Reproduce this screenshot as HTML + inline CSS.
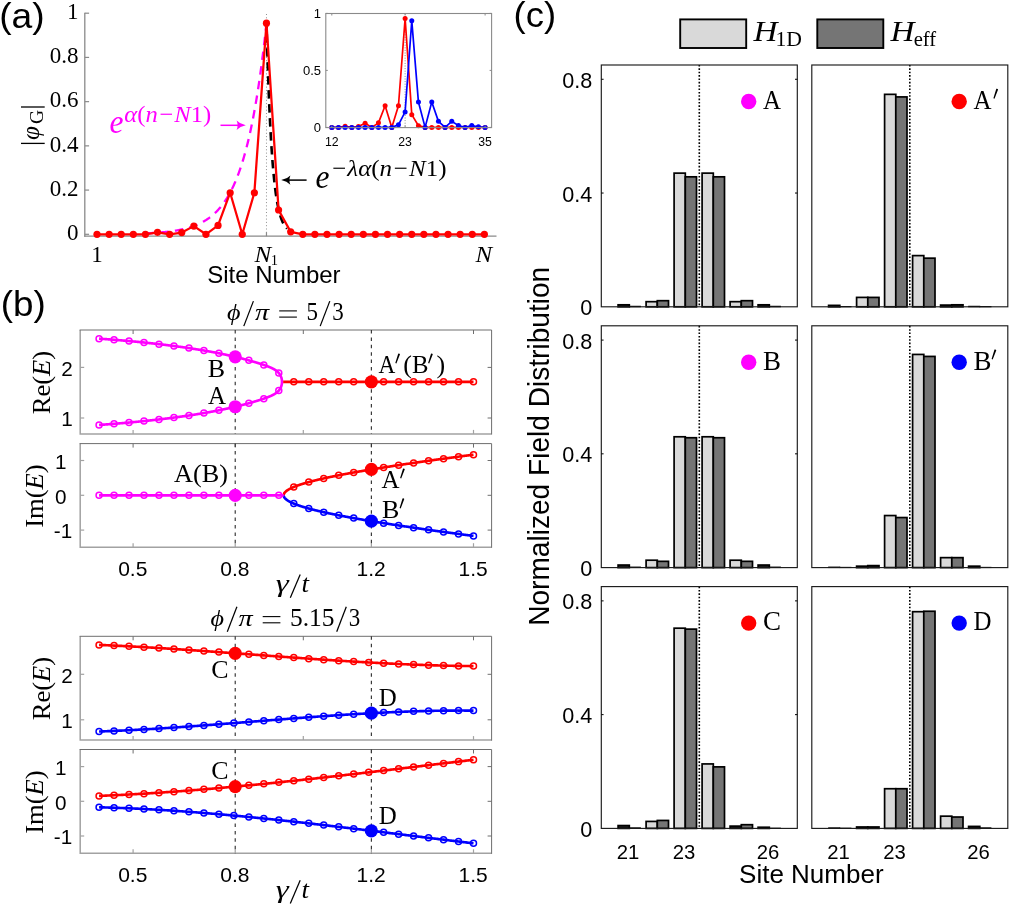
<!DOCTYPE html>
<html><head><meta charset="utf-8"><title>Figure</title>
<style>html,body{margin:0;padding:0;background:#fff;overflow:hidden;}svg{display:block;position:absolute;left:0;top:0;will-change:transform;}</style></head>
<body><svg width="1011" height="906" viewBox="0 0 1011 906">
<rect width="1011" height="906" fill="#fff"/>
<text x="-0.80" y="27.60" font-size="35" font-family="Liberation Sans, sans-serif" text-anchor="start" fill="#000"  textLength="45.5" lengthAdjust="spacingAndGlyphs">(a)</text>
<line x1="266.47" y1="14.00" x2="266.47" y2="236.20" stroke="#8f8f8f" stroke-width="1" stroke-dasharray="1,2.3"/>
<line x1="84.80" y1="12.70" x2="84.80" y2="236.80" stroke="#8a8a8a" stroke-width="1.3" />
<line x1="84.20" y1="236.20" x2="496.50" y2="236.20" stroke="#8a8a8a" stroke-width="1.3" />
<line x1="84.80" y1="234.30" x2="89.10" y2="234.30" stroke="#8a8a8a" stroke-width="1.2" />
<text x="78.40" y="240.00" font-size="23" font-family="Liberation Serif, serif" text-anchor="end" fill="#000" >0</text>
<line x1="84.80" y1="190.08" x2="89.10" y2="190.08" stroke="#8a8a8a" stroke-width="1.2" />
<text x="78.40" y="195.78" font-size="23" font-family="Liberation Serif, serif" text-anchor="end" fill="#000" >0.2</text>
<line x1="84.80" y1="145.86" x2="89.10" y2="145.86" stroke="#8a8a8a" stroke-width="1.2" />
<text x="78.40" y="151.56" font-size="23" font-family="Liberation Serif, serif" text-anchor="end" fill="#000" >0.4</text>
<line x1="84.80" y1="101.64" x2="89.10" y2="101.64" stroke="#8a8a8a" stroke-width="1.2" />
<text x="78.40" y="107.34" font-size="23" font-family="Liberation Serif, serif" text-anchor="end" fill="#000" >0.6</text>
<line x1="84.80" y1="57.42" x2="89.10" y2="57.42" stroke="#8a8a8a" stroke-width="1.2" />
<text x="78.40" y="63.12" font-size="23" font-family="Liberation Serif, serif" text-anchor="end" fill="#000" >0.8</text>
<line x1="84.80" y1="13.20" x2="89.10" y2="13.20" stroke="#8a8a8a" stroke-width="1.2" />
<text x="78.40" y="18.90" font-size="23" font-family="Liberation Serif, serif" text-anchor="end" fill="#000" >1</text>
<line x1="97.00" y1="236.20" x2="97.00" y2="232.20" stroke="#8a8a8a" stroke-width="1.2" />
<line x1="266.47" y1="236.20" x2="266.47" y2="232.20" stroke="#8a8a8a" stroke-width="1.2" />
<line x1="484.36" y1="236.20" x2="484.36" y2="232.20" stroke="#8a8a8a" stroke-width="1.2" />
<line x1="21.00" y1="107.00" x2="44.70" y2="107.00" stroke="#000" stroke-width="1.3" />
<line x1="21.00" y1="143.40" x2="44.70" y2="143.40" stroke="#000" stroke-width="1.3" />
<g transform="translate(38.6,140) rotate(-90)"><text x="0" y="0" font-size="25" font-family="Liberation Serif, serif" font-style="italic">φ</text></g>
<g transform="translate(43,124) rotate(-90)"><text x="0" y="0" font-size="19.5" font-family="Liberation Serif, serif">G</text></g>
<text x="97.00" y="262.00" font-size="23" font-family="Liberation Serif, serif" text-anchor="middle" fill="#000" >1</text>
<text x="254.4" y="262" font-size="23.5" font-family="Liberation Serif, serif" font-style="italic" textLength="16.7" lengthAdjust="spacingAndGlyphs">N</text>
<text x="270.80" y="264.90" font-size="14.5" font-family="Liberation Serif, serif" text-anchor="start" fill="#000" >1</text>
<text x="475.5" y="262" font-size="23.5" font-family="Liberation Serif, serif" font-style="italic" textLength="16.7" lengthAdjust="spacingAndGlyphs">N</text>
<text x="207.30" y="282.80" font-size="24" font-family="Liberation Sans, sans-serif" text-anchor="start" fill="#000"  textLength="133.3" lengthAdjust="spacingAndGlyphs">Site Number</text>
<polyline points="145.42,233.35 146.03,233.32 146.63,233.29 147.24,233.27 147.84,233.24 148.45,233.21 149.05,233.18 149.66,233.15 150.26,233.12 150.87,233.08 151.47,233.05 152.08,233.02 152.68,232.98 153.29,232.95 153.89,232.91 154.50,232.87 155.10,232.83 155.71,232.79 156.31,232.75 156.92,232.71 157.53,232.66 158.13,232.62 158.74,232.57 159.34,232.53 159.95,232.48 160.55,232.43 161.16,232.38 161.76,232.32 162.37,232.27 162.97,232.21 163.58,232.16 164.18,232.10 164.79,232.04 165.39,231.98 166.00,231.91 166.60,231.85 167.21,231.78 167.81,231.71 168.42,231.64 169.02,231.57 169.63,231.49 170.24,231.41 170.84,231.34 171.45,231.25 172.05,231.17 172.66,231.09 173.26,231.00 173.87,230.91 174.47,230.81 175.08,230.72 175.68,230.62 176.29,230.52 176.89,230.42 177.50,230.31 178.10,230.20 178.71,230.09 179.31,229.97 179.92,229.86 180.52,229.73 181.13,229.61 181.74,229.48 182.34,229.35 182.95,229.21 183.55,229.07 184.16,228.93 184.76,228.78 185.37,228.63 185.97,228.48 186.58,228.32 187.18,228.16 187.79,227.99 188.39,227.81 189.00,227.64 189.60,227.45 190.21,227.27 190.81,227.07 191.42,226.88 192.02,226.67 192.63,226.47 193.23,226.25 193.84,226.03 194.45,225.80 195.05,225.57 195.66,225.33 196.26,225.09 196.87,224.84 197.47,224.58 198.08,224.31 198.68,224.04 199.29,223.76 199.89,223.47 200.50,223.17 201.10,222.87 201.71,222.55 202.31,222.23 202.92,221.90 203.52,221.56 204.13,221.21 204.73,220.86 205.34,220.49 205.94,220.11 206.55,219.72 207.16,219.32 207.76,218.91 208.37,218.49 208.97,218.06 209.58,217.61 210.18,217.16 210.79,216.69 211.39,216.21 212.00,215.71 212.60,215.20 213.21,214.68 213.81,214.14 214.42,213.59 215.02,213.02 215.63,212.44 216.23,211.84 216.84,211.23 217.44,210.60 218.05,209.95 218.66,209.28 219.26,208.60 219.87,207.89 220.47,207.17 221.08,206.43 221.68,205.67 222.29,204.88 222.89,204.08 223.50,203.25 224.10,202.40 224.71,201.53 225.31,200.63 225.92,199.71 226.52,198.76 227.13,197.79 227.73,196.79 228.34,195.76 228.94,194.71 229.55,193.63 230.16,192.51 230.76,191.37 231.37,190.20 231.97,188.99 232.58,187.75 233.18,186.47 233.79,185.17 234.39,183.82 235.00,182.44 235.60,181.02 236.21,179.56 236.81,178.06 237.42,176.52 238.02,174.94 238.63,173.32 239.23,171.65 239.84,169.93 240.44,168.17 241.05,166.36 241.65,164.50 242.26,162.59 242.87,160.63 243.47,158.62 244.08,156.54 244.68,154.42 245.29,152.23 245.89,149.98 246.50,147.68 247.10,145.31 247.71,142.87 248.31,140.37 248.92,137.80 249.52,135.16 250.13,132.44 250.73,129.66 251.34,126.79 251.94,123.85 252.55,120.83 253.15,117.72 253.76,114.53 254.37,111.25 254.97,107.88 255.58,104.43 256.18,100.87 256.79,97.22 257.39,93.47 258.00,89.61 258.60,85.65 259.21,81.59 259.81,77.41 260.42,73.11 261.02,68.70 261.63,64.17 262.23,59.51 262.84,54.73 263.44,49.81 264.05,44.77 264.65,39.58 265.26,34.25 265.86,28.77 266.47,23.15" fill="none" stroke="#ff00ff" stroke-width="2.3" stroke-linejoin="round" stroke-dasharray="8.5,6.3"/>
<polyline points="266.47,23.15 266.71,31.96 266.95,40.39 267.20,48.48 267.44,56.23 267.68,63.66 267.92,70.77 268.16,77.59 268.41,84.13 268.65,90.39 268.89,96.39 269.13,102.15 269.38,107.66 269.62,112.94 269.86,118.00 270.10,122.85 270.34,127.50 270.59,131.95 270.83,136.22 271.07,140.31 271.31,144.23 271.55,147.99 271.80,151.59 272.04,155.04 272.28,158.34 272.52,161.51 272.76,164.55 273.01,167.46 273.25,170.24 273.49,172.91 273.73,175.47 273.98,177.93 274.22,180.28 274.46,182.53 274.70,184.69 274.94,186.76 275.19,188.74 275.43,190.64 275.67,192.46 275.91,194.21 276.15,195.88 276.40,197.48 276.64,199.02 276.88,200.49 277.12,201.90 277.36,203.25 277.61,204.55 277.85,205.79 278.09,206.98 278.33,208.12 278.58,209.21 278.82,210.25 279.06,211.26 279.30,212.22 279.54,213.14 279.79,214.02 280.03,214.87 280.27,215.68 280.51,216.45 280.75,217.20 281.00,217.91 281.24,218.60 281.48,219.25 281.72,219.88 281.96,220.48 282.21,221.06 282.45,221.61 282.69,222.14 282.93,222.64 283.17,223.13 283.42,223.60 283.66,224.04 283.90,224.47 284.14,224.88 284.39,225.27 284.63,225.65 284.87,226.01 285.11,226.36 285.35,226.69 285.60,227.01 285.84,227.31 286.08,227.60 286.32,227.88 286.56,228.15 286.81,228.40 287.05,228.65" fill="none" stroke="#000" stroke-width="2.6" stroke-linejoin="round" stroke-dasharray="8.5,5.5" stroke-dashoffset="3"/>
<polyline points="97.00,234.30 109.11,234.30 121.21,234.30 133.31,234.30 145.42,234.30 157.53,232.31 169.63,234.30 181.74,232.53 193.84,226.12 205.94,234.30 218.05,225.46 230.16,192.73 242.26,234.30 254.37,192.73 266.47,23.15 278.58,209.98 290.68,231.87 302.78,234.30 314.89,234.30 327.00,234.30 339.10,234.30 351.21,234.30 363.31,234.30 375.42,234.30 387.52,234.30 399.62,234.30 411.73,234.30 423.84,234.30 435.94,234.30 448.05,234.30 460.15,234.30 472.25,234.30 484.36,234.30" fill="none" stroke="#ff0000" stroke-width="2.25" stroke-linejoin="round" />
<circle cx="97.00" cy="234.30" r="3.6" fill="#ff0000" stroke="none" stroke-width="0"/>
<circle cx="109.11" cy="234.30" r="3.6" fill="#ff0000" stroke="none" stroke-width="0"/>
<circle cx="121.21" cy="234.30" r="3.6" fill="#ff0000" stroke="none" stroke-width="0"/>
<circle cx="133.31" cy="234.30" r="3.6" fill="#ff0000" stroke="none" stroke-width="0"/>
<circle cx="145.42" cy="234.30" r="3.6" fill="#ff0000" stroke="none" stroke-width="0"/>
<circle cx="157.53" cy="232.31" r="3.6" fill="#ff0000" stroke="none" stroke-width="0"/>
<circle cx="169.63" cy="234.30" r="3.6" fill="#ff0000" stroke="none" stroke-width="0"/>
<circle cx="181.74" cy="232.53" r="3.6" fill="#ff0000" stroke="none" stroke-width="0"/>
<circle cx="193.84" cy="226.12" r="3.6" fill="#ff0000" stroke="none" stroke-width="0"/>
<circle cx="205.94" cy="234.30" r="3.6" fill="#ff0000" stroke="none" stroke-width="0"/>
<circle cx="218.05" cy="225.46" r="3.6" fill="#ff0000" stroke="none" stroke-width="0"/>
<circle cx="230.16" cy="192.73" r="3.6" fill="#ff0000" stroke="none" stroke-width="0"/>
<circle cx="242.26" cy="234.30" r="3.6" fill="#ff0000" stroke="none" stroke-width="0"/>
<circle cx="254.37" cy="192.73" r="3.6" fill="#ff0000" stroke="none" stroke-width="0"/>
<circle cx="266.47" cy="23.15" r="3.6" fill="#ff0000" stroke="none" stroke-width="0"/>
<circle cx="278.58" cy="209.98" r="3.6" fill="#ff0000" stroke="none" stroke-width="0"/>
<circle cx="290.68" cy="231.87" r="3.6" fill="#ff0000" stroke="none" stroke-width="0"/>
<circle cx="302.78" cy="234.30" r="3.6" fill="#ff0000" stroke="none" stroke-width="0"/>
<circle cx="314.89" cy="234.30" r="3.6" fill="#ff0000" stroke="none" stroke-width="0"/>
<circle cx="327.00" cy="234.30" r="3.6" fill="#ff0000" stroke="none" stroke-width="0"/>
<circle cx="339.10" cy="234.30" r="3.6" fill="#ff0000" stroke="none" stroke-width="0"/>
<circle cx="351.21" cy="234.30" r="3.6" fill="#ff0000" stroke="none" stroke-width="0"/>
<circle cx="363.31" cy="234.30" r="3.6" fill="#ff0000" stroke="none" stroke-width="0"/>
<circle cx="375.42" cy="234.30" r="3.6" fill="#ff0000" stroke="none" stroke-width="0"/>
<circle cx="387.52" cy="234.30" r="3.6" fill="#ff0000" stroke="none" stroke-width="0"/>
<circle cx="399.62" cy="234.30" r="3.6" fill="#ff0000" stroke="none" stroke-width="0"/>
<circle cx="411.73" cy="234.30" r="3.6" fill="#ff0000" stroke="none" stroke-width="0"/>
<circle cx="423.84" cy="234.30" r="3.6" fill="#ff0000" stroke="none" stroke-width="0"/>
<circle cx="435.94" cy="234.30" r="3.6" fill="#ff0000" stroke="none" stroke-width="0"/>
<circle cx="448.05" cy="234.30" r="3.6" fill="#ff0000" stroke="none" stroke-width="0"/>
<circle cx="460.15" cy="234.30" r="3.6" fill="#ff0000" stroke="none" stroke-width="0"/>
<circle cx="472.25" cy="234.30" r="3.6" fill="#ff0000" stroke="none" stroke-width="0"/>
<circle cx="484.36" cy="234.30" r="3.6" fill="#ff0000" stroke="none" stroke-width="0"/>
<text x="109.6" y="133" font-size="33" font-family="Liberation Serif, serif" font-style="italic" fill="#ff00ff" textLength="14" lengthAdjust="spacingAndGlyphs">e</text>
<text x="124.3" y="121.5" font-size="24" font-family="Liberation Serif, serif" font-style="italic" fill="#ff00ff" textLength="87" lengthAdjust="spacingAndGlyphs">α<tspan font-style="normal">(</tspan>n−N<tspan font-style="normal">1)</tspan></text>
<path d="M220.5,125.3 H240" stroke="#ff00ff" stroke-width="1.5" fill="none"/><path d="M245.8,125.3 Q240,124.2 236.6,120.6 Q238.6,125.3 236.6,130 Q240,126.4 245.8,125.3z" fill="#ff00ff"/>
<path d="M306.6,180.1 H287" stroke="#000" stroke-width="1.5" fill="none"/><path d="M281.2,180.1 Q287,179 290.4,175.4 Q288.4,180.1 290.4,184.8 Q287,181.2 281.2,180.1z" fill="#000"/>
<text x="315.5" y="188" font-size="33" font-family="Liberation Serif, serif" font-style="italic" fill="#000" textLength="14" lengthAdjust="spacingAndGlyphs">e</text>
<text x="330.5" y="176.3" font-size="24" font-family="Liberation Serif, serif" font-style="italic" fill="#000" textLength="116" lengthAdjust="spacingAndGlyphs">−λα<tspan font-style="normal">(</tspan>n−N<tspan font-style="normal">1)</tspan></text>
<line x1="405.12" y1="13.50" x2="405.12" y2="127.60" stroke="#8a8a8a" stroke-width="1" stroke-dasharray="1,1.6"/>
<polyline points="331.80,127.40 338.47,127.40 345.13,126.37 351.80,127.40 358.46,126.49 365.12,123.18 371.79,127.40 378.46,122.84 385.12,105.74 391.79,127.40 398.45,105.74 405.12,18.53 411.78,114.63 418.44,125.69 425.11,127.40 431.77,127.40 438.44,127.40 445.11,127.40 451.77,127.40 458.44,127.40 465.10,127.40 471.76,127.40 478.43,127.40 485.10,127.40" fill="none" stroke="#ff0000" stroke-width="1.7" stroke-linejoin="round" />
<circle cx="331.80" cy="127.40" r="2.5" fill="#ff0000" stroke="none" stroke-width="0"/>
<circle cx="338.47" cy="127.40" r="2.5" fill="#ff0000" stroke="none" stroke-width="0"/>
<circle cx="345.13" cy="126.37" r="2.5" fill="#ff0000" stroke="none" stroke-width="0"/>
<circle cx="351.80" cy="127.40" r="2.5" fill="#ff0000" stroke="none" stroke-width="0"/>
<circle cx="358.46" cy="126.49" r="2.5" fill="#ff0000" stroke="none" stroke-width="0"/>
<circle cx="365.12" cy="123.18" r="2.5" fill="#ff0000" stroke="none" stroke-width="0"/>
<circle cx="371.79" cy="127.40" r="2.5" fill="#ff0000" stroke="none" stroke-width="0"/>
<circle cx="378.46" cy="122.84" r="2.5" fill="#ff0000" stroke="none" stroke-width="0"/>
<circle cx="385.12" cy="105.74" r="2.5" fill="#ff0000" stroke="none" stroke-width="0"/>
<circle cx="391.79" cy="127.40" r="2.5" fill="#ff0000" stroke="none" stroke-width="0"/>
<circle cx="398.45" cy="105.74" r="2.5" fill="#ff0000" stroke="none" stroke-width="0"/>
<circle cx="405.12" cy="18.53" r="2.5" fill="#ff0000" stroke="none" stroke-width="0"/>
<circle cx="411.78" cy="114.63" r="2.5" fill="#ff0000" stroke="none" stroke-width="0"/>
<circle cx="418.44" cy="125.69" r="2.5" fill="#ff0000" stroke="none" stroke-width="0"/>
<circle cx="425.11" cy="127.40" r="2.5" fill="#ff0000" stroke="none" stroke-width="0"/>
<circle cx="431.77" cy="127.40" r="2.5" fill="#ff0000" stroke="none" stroke-width="0"/>
<circle cx="438.44" cy="127.40" r="2.5" fill="#ff0000" stroke="none" stroke-width="0"/>
<circle cx="445.11" cy="127.40" r="2.5" fill="#ff0000" stroke="none" stroke-width="0"/>
<circle cx="451.77" cy="127.40" r="2.5" fill="#ff0000" stroke="none" stroke-width="0"/>
<circle cx="458.44" cy="127.40" r="2.5" fill="#ff0000" stroke="none" stroke-width="0"/>
<circle cx="465.10" cy="127.40" r="2.5" fill="#ff0000" stroke="none" stroke-width="0"/>
<circle cx="471.76" cy="127.40" r="2.5" fill="#ff0000" stroke="none" stroke-width="0"/>
<circle cx="478.43" cy="127.40" r="2.5" fill="#ff0000" stroke="none" stroke-width="0"/>
<circle cx="485.10" cy="127.40" r="2.5" fill="#ff0000" stroke="none" stroke-width="0"/>
<polyline points="331.80,127.40 338.47,127.40 345.13,127.40 351.80,127.40 358.46,127.40 365.12,127.40 371.79,127.40 378.46,127.40 385.12,127.40 391.79,127.40 398.45,124.78 405.12,111.90 411.78,20.81 418.44,102.09 425.11,127.40 431.77,102.09 438.44,121.36 445.11,127.40 451.77,121.36 458.44,125.58 465.10,127.40 471.76,125.58 478.43,126.83 485.10,127.40" fill="none" stroke="#0000ff" stroke-width="1.7" stroke-linejoin="round" />
<circle cx="331.80" cy="127.40" r="2.5" fill="#0000ff" stroke="none" stroke-width="0"/>
<circle cx="338.47" cy="127.40" r="2.5" fill="#0000ff" stroke="none" stroke-width="0"/>
<circle cx="345.13" cy="127.40" r="2.5" fill="#0000ff" stroke="none" stroke-width="0"/>
<circle cx="351.80" cy="127.40" r="2.5" fill="#0000ff" stroke="none" stroke-width="0"/>
<circle cx="358.46" cy="127.40" r="2.5" fill="#0000ff" stroke="none" stroke-width="0"/>
<circle cx="365.12" cy="127.40" r="2.5" fill="#0000ff" stroke="none" stroke-width="0"/>
<circle cx="371.79" cy="127.40" r="2.5" fill="#0000ff" stroke="none" stroke-width="0"/>
<circle cx="378.46" cy="127.40" r="2.5" fill="#0000ff" stroke="none" stroke-width="0"/>
<circle cx="385.12" cy="127.40" r="2.5" fill="#0000ff" stroke="none" stroke-width="0"/>
<circle cx="391.79" cy="127.40" r="2.5" fill="#0000ff" stroke="none" stroke-width="0"/>
<circle cx="398.45" cy="124.78" r="2.5" fill="#0000ff" stroke="none" stroke-width="0"/>
<circle cx="405.12" cy="111.90" r="2.5" fill="#0000ff" stroke="none" stroke-width="0"/>
<circle cx="411.78" cy="20.81" r="2.5" fill="#0000ff" stroke="none" stroke-width="0"/>
<circle cx="418.44" cy="102.09" r="2.5" fill="#0000ff" stroke="none" stroke-width="0"/>
<circle cx="425.11" cy="127.40" r="2.5" fill="#0000ff" stroke="none" stroke-width="0"/>
<circle cx="431.77" cy="102.09" r="2.5" fill="#0000ff" stroke="none" stroke-width="0"/>
<circle cx="438.44" cy="121.36" r="2.5" fill="#0000ff" stroke="none" stroke-width="0"/>
<circle cx="445.11" cy="127.40" r="2.5" fill="#0000ff" stroke="none" stroke-width="0"/>
<circle cx="451.77" cy="121.36" r="2.5" fill="#0000ff" stroke="none" stroke-width="0"/>
<circle cx="458.44" cy="125.58" r="2.5" fill="#0000ff" stroke="none" stroke-width="0"/>
<circle cx="465.10" cy="127.40" r="2.5" fill="#0000ff" stroke="none" stroke-width="0"/>
<circle cx="471.76" cy="125.58" r="2.5" fill="#0000ff" stroke="none" stroke-width="0"/>
<circle cx="478.43" cy="126.83" r="2.5" fill="#0000ff" stroke="none" stroke-width="0"/>
<circle cx="485.10" cy="127.40" r="2.5" fill="#0000ff" stroke="none" stroke-width="0"/>
<rect x="325.8" y="13.5" width="165.80" height="114.10" fill="none" stroke="#8a8a8a" stroke-width="1.1"/>
<line x1="331.80" y1="127.60" x2="331.80" y2="125.60" stroke="#8a8a8a" stroke-width="1" />
<line x1="331.80" y1="13.50" x2="331.80" y2="15.50" stroke="#8a8a8a" stroke-width="1" />
<text x="331.80" y="145.70" font-size="12.3" font-family="Liberation Sans, sans-serif" text-anchor="middle" fill="#000" >12</text>
<line x1="405.12" y1="127.60" x2="405.12" y2="125.60" stroke="#8a8a8a" stroke-width="1" />
<line x1="405.12" y1="13.50" x2="405.12" y2="15.50" stroke="#8a8a8a" stroke-width="1" />
<text x="405.12" y="145.70" font-size="12.3" font-family="Liberation Sans, sans-serif" text-anchor="middle" fill="#000" >23</text>
<line x1="485.10" y1="127.60" x2="485.10" y2="125.60" stroke="#8a8a8a" stroke-width="1" />
<line x1="485.10" y1="13.50" x2="485.10" y2="15.50" stroke="#8a8a8a" stroke-width="1" />
<text x="485.10" y="145.70" font-size="12.3" font-family="Liberation Sans, sans-serif" text-anchor="middle" fill="#000" >35</text>
<line x1="325.80" y1="127.40" x2="327.80" y2="127.40" stroke="#8a8a8a" stroke-width="1" />
<line x1="491.60" y1="127.40" x2="489.60" y2="127.40" stroke="#8a8a8a" stroke-width="1" />
<text x="321.00" y="132.00" font-size="13" font-family="Liberation Sans, sans-serif" text-anchor="end" fill="#000" >0</text>
<line x1="325.80" y1="70.40" x2="327.80" y2="70.40" stroke="#8a8a8a" stroke-width="1" />
<line x1="491.60" y1="70.40" x2="489.60" y2="70.40" stroke="#8a8a8a" stroke-width="1" />
<text x="321.00" y="75.00" font-size="13" font-family="Liberation Sans, sans-serif" text-anchor="end" fill="#000" >0.5</text>
<line x1="325.80" y1="13.40" x2="327.80" y2="13.40" stroke="#8a8a8a" stroke-width="1" />
<line x1="491.60" y1="13.40" x2="489.60" y2="13.40" stroke="#8a8a8a" stroke-width="1" />
<text x="321.00" y="18.00" font-size="13" font-family="Liberation Sans, sans-serif" text-anchor="end" fill="#000" >1</text>
<text x="0.70" y="315.50" font-size="35.5" font-family="Liberation Sans, sans-serif" text-anchor="start" fill="#000"  textLength="45" lengthAdjust="spacingAndGlyphs">(b)</text>
<text x="227.0" y="319.9" font-size="24" font-family="Liberation Serif, serif" font-style="italic" textLength="13.5" lengthAdjust="spacingAndGlyphs">ϕ</text>
<line x1="243.80" y1="326.10" x2="253.40" y2="301.10" stroke="#000" stroke-width="1.25" />
<text x="255.1" y="319.9" font-size="23.5" font-family="Liberation Serif, serif" font-style="italic" textLength="14.2" lengthAdjust="spacingAndGlyphs">π</text>
<line x1="279.20" y1="310.90" x2="296.90" y2="310.90" stroke="#000" stroke-width="1.1" />
<line x1="279.20" y1="317.10" x2="296.90" y2="317.10" stroke="#000" stroke-width="1.1" />
<text x="306.50" y="319.90" font-size="25" font-family="Liberation Serif, serif" text-anchor="start" fill="#000"  textLength="11.5" lengthAdjust="spacingAndGlyphs">5</text>
<line x1="320.20" y1="326.10" x2="329.80" y2="301.10" stroke="#000" stroke-width="1.25" />
<text x="332.30" y="319.90" font-size="25" font-family="Liberation Serif, serif" text-anchor="start" fill="#000"  textLength="11.5" lengthAdjust="spacingAndGlyphs">3</text>
<line x1="133.10" y1="433.90" x2="133.10" y2="429.90" stroke="#a2a2a2" stroke-width="1.2" />
<line x1="133.10" y1="330.00" x2="133.10" y2="334.00" stroke="#6e6e6e" stroke-width="1" />
<line x1="303.30" y1="433.90" x2="303.30" y2="429.90" stroke="#a2a2a2" stroke-width="1.2" />
<line x1="303.30" y1="330.00" x2="303.30" y2="334.00" stroke="#6e6e6e" stroke-width="1" />
<line x1="473.50" y1="433.90" x2="473.50" y2="429.90" stroke="#a2a2a2" stroke-width="1.2" />
<line x1="473.50" y1="330.00" x2="473.50" y2="334.00" stroke="#6e6e6e" stroke-width="1" />
<line x1="80.20" y1="418.00" x2="84.20" y2="418.00" stroke="#a2a2a2" stroke-width="1.2" />
<line x1="491.60" y1="418.00" x2="487.60" y2="418.00" stroke="#6e6e6e" stroke-width="1" />
<text x="61.20" y="426.30" font-size="20.7" font-family="Liberation Sans, sans-serif" text-anchor="start" fill="#000" >1</text>
<line x1="80.20" y1="367.40" x2="84.20" y2="367.40" stroke="#a2a2a2" stroke-width="1.2" />
<line x1="491.60" y1="367.40" x2="487.60" y2="367.40" stroke="#6e6e6e" stroke-width="1" />
<text x="61.20" y="375.70" font-size="20.7" font-family="Liberation Sans, sans-serif" text-anchor="start" fill="#000" >2</text>
<path d="M80.2,330.0 V433.9 H491.6" fill="none" stroke="#a2a2a2" stroke-width="1.5"/>
<path d="M79.60000000000001,330.0 H491.6 V434.5" fill="none" stroke="#6e6e6e" stroke-width="1"/>
<line x1="235.22" y1="330.00" x2="235.22" y2="433.90" stroke="#333" stroke-width="1.15" stroke-dasharray="3.5,3.9"/>
<line x1="371.38" y1="330.00" x2="371.38" y2="433.90" stroke="#333" stroke-width="1.15" stroke-dasharray="3.5,3.9"/>
<polyline points="99.06,338.64 99.60,338.68 100.15,338.72 100.69,338.76 101.23,338.80 101.77,338.84 102.31,338.88 102.85,338.91 103.39,338.95 103.93,338.99 104.47,339.03 105.01,339.07 105.55,339.11 106.08,339.15 106.62,339.19 107.16,339.23 107.69,339.28 108.23,339.32 108.76,339.36 109.30,339.40 109.83,339.44 110.36,339.48 110.90,339.52 111.43,339.56 111.96,339.61 112.49,339.65 113.02,339.69 113.55,339.73 114.08,339.78 114.61,339.82 115.14,339.86 115.67,339.90 116.19,339.95 116.72,339.99 117.25,340.03 117.77,340.08 118.30,340.12 118.82,340.16 119.35,340.21 119.87,340.25 120.39,340.30 120.91,340.34 121.44,340.39 121.96,340.43 122.48,340.48 123.00,340.52 123.52,340.57 124.04,340.61 124.55,340.66 125.07,340.70 125.59,340.75 126.11,340.79 126.62,340.84 127.14,340.89 127.65,340.93 128.17,340.98 128.68,341.03 129.19,341.07 129.71,341.12 130.22,341.17 130.73,341.21 131.24,341.26 131.75,341.31 132.26,341.36 132.77,341.40 133.28,341.45 133.79,341.50 134.29,341.55 134.80,341.60 135.31,341.64 135.81,341.69 136.32,341.74 136.82,341.79 137.32,341.84 137.83,341.89 138.33,341.94 138.83,341.99 139.33,342.04 139.83,342.09 140.33,342.14 140.83,342.19 141.33,342.24 141.83,342.29 142.32,342.34 142.82,342.39 143.32,342.44 143.81,342.49 144.31,342.54 144.80,342.59 145.29,342.64 145.79,342.70 146.28,342.75 146.77,342.80 147.26,342.85 147.75,342.90 148.24,342.95 148.73,343.01 149.22,343.06 149.70,343.11 150.19,343.16 150.68,343.22 151.16,343.27 151.65,343.32 152.13,343.38 152.62,343.43 153.10,343.48 153.58,343.54 154.06,343.59 154.54,343.64 155.02,343.70 155.50,343.75 155.98,343.81 156.46,343.86 156.94,343.92 157.41,343.97 157.89,344.03 158.36,344.08 158.84,344.14 159.31,344.19 159.79,344.25 160.26,344.30 160.73,344.36 161.20,344.41 161.67,344.47 162.14,344.53 162.61,344.58 163.08,344.64 163.55,344.69 164.01,344.75 164.48,344.81 164.95,344.86 165.41,344.92 165.87,344.98 166.34,345.04 166.80,345.09 167.26,345.15 167.72,345.21 168.18,345.27 168.64,345.32 169.10,345.38 169.56,345.44 170.02,345.50 170.47,345.56 170.93,345.61 171.39,345.67 171.84,345.73 172.29,345.79 172.75,345.85 173.20,345.91 173.65,345.97 174.10,346.03 174.55,346.09 175.00,346.15 175.45,346.21 175.90,346.27 176.35,346.33 176.79,346.39 177.24,346.45 177.68,346.51 178.13,346.57 178.57,346.63 179.01,346.69 179.45,346.75 179.89,346.81 180.33,346.87 180.77,346.93 181.21,347.00 181.65,347.06 182.09,347.12 182.52,347.18 182.96,347.24 183.39,347.30 183.83,347.37 184.26,347.43 184.69,347.49 185.13,347.55 185.56,347.62 185.99,347.68 186.42,347.74 186.84,347.80 187.27,347.87 187.70,347.93 188.12,347.99 188.55,348.06 188.97,348.12 189.40,348.18 189.82,348.25 190.24,348.31 190.66,348.38 191.08,348.44 191.50,348.50 191.92,348.57 192.34,348.63 192.76,348.70 193.17,348.76 193.59,348.83 194.00,348.89 194.42,348.96 194.83,349.02 195.24,349.09 195.66,349.15 196.07,349.22 196.48,349.28 196.89,349.35 197.29,349.42 197.70,349.48 198.11,349.55 198.51,349.61 198.92,349.68 199.32,349.75 199.72,349.81 200.13,349.88 200.53,349.95 200.93,350.01 201.33,350.08 201.73,350.15 202.13,350.22 202.52,350.28 202.92,350.35 203.32,350.42 203.71,350.49 204.10,350.55 204.50,350.62 204.89,350.69 205.28,350.76 205.67,350.82 206.06,350.89 206.45,350.96 206.84,351.03 207.22,351.10 207.61,351.17 207.99,351.24 208.38,351.30 208.76,351.37 209.14,351.44 209.53,351.51 209.91,351.58 210.29,351.65 210.67,351.72 211.04,351.79 211.42,351.86 211.80,351.93 212.17,352.00 212.55,352.07 212.92,352.14 213.30,352.21 213.67,352.28 214.04,352.35 214.41,352.42 214.78,352.49 215.15,352.56 215.51,352.63 215.88,352.70 216.25,352.77 216.61,352.84 216.98,352.92 217.34,352.99 217.70,353.06 218.06,353.13 218.42,353.20 218.78,353.27 219.14,353.34 219.50,353.41 219.85,353.49 220.21,353.56 220.57,353.63 220.92,353.70 221.27,353.77 221.62,353.85 221.98,353.92 222.33,353.99 222.68,354.06 223.02,354.14 223.37,354.21 223.72,354.28 224.06,354.35 224.41,354.43 224.75,354.50 225.10,354.57 225.44,354.64 225.78,354.72 226.12,354.79 226.46,354.86 226.80,354.94 227.13,355.01 227.47,355.08 227.81,355.16 228.14,355.23 228.47,355.30 228.81,355.38 229.14,355.45 229.47,355.53 229.80,355.60 230.13,355.67 230.46,355.75 230.78,355.82 231.11,355.89 231.43,355.97 231.76,356.04 232.08,356.12 232.40,356.19 232.72,356.27 233.04,356.34 233.36,356.41 233.68,356.49 234.00,356.56 234.32,356.64 234.63,356.71 234.95,356.79 235.26,356.86 235.57,356.94 235.88,357.01 236.19,357.08 236.50,357.16 236.81,357.23 237.12,357.31 237.43,357.38 237.73,357.46 238.04,357.53 238.34,357.61 238.64,357.68 238.95,357.76 239.25,357.83 239.55,357.91 239.85,357.98 240.14,358.06 240.44,358.13 240.74,358.21 241.03,358.28 241.33,358.36 241.62,358.43 241.91,358.51 242.20,358.58 242.49,358.66 242.78,358.73 243.07,358.81 243.36,358.88 243.64,358.96 243.93,359.03 244.21,359.11 244.50,359.18 244.78,359.25 245.06,359.33 245.34,359.40 245.62,359.48 245.90,359.55 246.17,359.63 246.45,359.70 246.72,359.78 247.00,359.85 247.27,359.93 247.54,360.00 247.81,360.08 248.08,360.15 248.35,360.22 248.62,360.30 248.89,360.37 249.15,360.45 249.42,360.52 249.68,360.60 249.95,360.67 250.21,360.74 250.47,360.82 250.73,360.89 250.99,360.96 251.25,361.04 251.50,361.11 251.76,361.19 252.01,361.26 252.27,361.33 252.52,361.41 252.77,361.48 253.02,361.55 253.27,361.63 253.52,361.70 253.77,361.77 254.02,361.84 254.26,361.92 254.51,361.99 254.75,362.06 254.99,362.13 255.23,362.21 255.47,362.28 255.71,362.35 255.95,362.42 256.19,362.50 256.42,362.57 256.66,362.64 256.89,362.71 257.13,362.78 257.36,362.85 257.59,362.93 257.82,363.00 258.05,363.07 258.28,363.14 258.50,363.21 258.73,363.28 258.95,363.35 259.18,363.42 259.40,363.49 259.62,363.56 259.84,363.63 260.06,363.71 260.28,363.78 260.50,363.85 260.71,363.92 260.93,363.99 261.14,364.06 261.36,364.13 261.57,364.20 261.78,364.27 261.99,364.33 262.20,364.40 262.40,364.47 262.61,364.54 262.82,364.61 263.02,364.68 263.23,364.75 263.43,364.82 263.63,364.89 263.83,364.96 264.03,365.03 264.23,365.09 264.42,365.16 264.62,365.23 264.82,365.30 265.01,365.37 265.20,365.44 265.39,365.51 265.58,365.58 265.77,365.64 265.96,365.71 266.15,365.78 266.34,365.85 266.52,365.92 266.71,365.99 266.89,366.05 267.07,366.12 267.25,366.19 267.43,366.26 267.61,366.33 267.79,366.40 267.97,366.46 268.14,366.53 268.32,366.60 268.49,366.67 268.66,366.74 268.83,366.81 269.00,366.88 269.17,366.95 269.34,367.02 269.51,367.08 269.67,367.15 269.84,367.22 270.00,367.29 270.16,367.36 270.33,367.43 270.49,367.50 270.65,367.57 270.80,367.64 270.96,367.71 271.12,367.78 271.27,367.85 271.43,367.92 271.58,368.00 271.73,368.07 271.88,368.14 272.03,368.21 272.18,368.28 272.33,368.35 272.47,368.43 272.62,368.50 272.76,368.57 272.90,368.65 273.05,368.72 273.19,368.79 273.33,368.87 273.47,368.94 273.60,369.02 273.74,369.09 273.87,369.17 274.01,369.24 274.14,369.32 274.27,369.40 274.40,369.47 274.53,369.55 274.66,369.63 274.79,369.71 274.92,369.78 275.04,369.86 275.17,369.94 275.29,370.02 275.41,370.10 275.53,370.18 275.65,370.26 275.77,370.35 275.89,370.43 276.00,370.51 276.12,370.59 276.23,370.68 276.35,370.76 276.46,370.85 276.57,370.93 276.68,371.02 276.79,371.10 276.89,371.19 277.00,371.27 277.11,371.36 277.21,371.45 277.31,371.54 277.42,371.63 277.52,371.72 277.62,371.81 277.71,371.90 277.81,371.99 277.91,372.08 278.00,372.17 278.10,372.27 278.19,372.36 278.28,372.46 278.37,372.55 278.46,372.65 278.55,372.74 278.64,372.84 278.72,372.94 278.81,373.03 278.89,373.13 278.98,373.23 279.06,373.33 279.14,373.43 279.22,373.53 279.30,373.63 279.37,373.74 279.45,373.84 279.53,373.94 279.60,374.05 279.67,374.15 279.74,374.25 279.81,374.36 279.88,374.47 279.95,374.57 280.02,374.68 280.09,374.79 280.15,374.90 280.21,375.01 280.28,375.12 280.34,375.23 280.40,375.34 280.46,375.45 280.52,375.56 280.57,375.67 280.63,375.79 280.68,375.90 280.74,376.01 280.79,376.13 280.84,376.24 280.89,376.36 280.94,376.47 280.99,376.59 281.04,376.71 281.08,376.82 281.13,376.94 281.17,377.06 281.21,377.18 281.25,377.30 281.29,377.42 281.33,377.54 281.37,377.66 281.41,377.78 281.44,377.90 281.48,378.02 281.51,378.15 281.54,378.27 281.58,378.39 281.61,378.51 281.63,378.64 281.66,378.76 281.69,378.89 281.71,379.01 281.74,379.13 281.76,379.26 281.78,379.38 281.80,379.51 281.82,379.64 281.84,379.76 281.86,379.89 281.88,380.01 281.89,380.14 281.91,380.27 281.92,380.39 281.93,380.52 281.94,380.65 281.95,380.78 281.96,380.90 281.97,381.03 281.97,381.16 281.98,381.28 281.98,381.41 281.99,381.54 281.99,381.67 281.99,381.80 281.99,381.80 281.99,381.92 281.99,382.05 281.98,382.18 281.98,382.31 281.97,382.43 281.97,382.56 281.96,382.69 281.95,382.82 281.94,382.94 281.93,383.07 281.92,383.20 281.91,383.32 281.89,383.45 281.88,383.58 281.86,383.70 281.84,383.83 281.82,383.96 281.80,384.08 281.78,384.21 281.76,384.33 281.74,384.46 281.71,384.58 281.69,384.71 281.66,384.83 281.63,384.95 281.61,385.08 281.58,385.20 281.54,385.32 281.51,385.45 281.48,385.57 281.44,385.69 281.41,385.81 281.37,385.93 281.33,386.05 281.29,386.17 281.25,386.29 281.21,386.41 281.17,386.53 281.13,386.65 281.08,386.77 281.04,386.88 280.99,387.00 280.94,387.12 280.89,387.23 280.84,387.35 280.79,387.46 280.74,387.58 280.68,387.69 280.63,387.81 280.57,387.92 280.52,388.03 280.46,388.14 280.40,388.25 280.34,388.37 280.28,388.48 280.21,388.59 280.15,388.69 280.09,388.80 280.02,388.91 279.95,389.02 279.88,389.12 279.81,389.23 279.74,389.34 279.67,389.44 279.60,389.55 279.53,389.65 279.45,389.75 279.37,389.86 279.30,389.96 279.22,390.06 279.14,390.16 279.06,390.26 278.98,390.36 278.89,390.46 278.81,390.56 278.72,390.66 278.64,390.75 278.55,390.85 278.46,390.95 278.37,391.04 278.28,391.14 278.19,391.23 278.10,391.32 278.00,391.42 277.91,391.51 277.81,391.60 277.71,391.69 277.62,391.78 277.52,391.87 277.42,391.96 277.31,392.05 277.21,392.14 277.11,392.23 277.00,392.32 276.89,392.40 276.79,392.49 276.68,392.58 276.57,392.66 276.46,392.75 276.35,392.83 276.23,392.91 276.12,393.00 276.00,393.08 275.89,393.16 275.77,393.25 275.65,393.33 275.53,393.41 275.41,393.49 275.29,393.57 275.17,393.65 275.04,393.73 274.92,393.81 274.79,393.88 274.66,393.96 274.53,394.04 274.40,394.12 274.27,394.19 274.14,394.27 274.01,394.35 273.87,394.42 273.74,394.50 273.60,394.57 273.47,394.65 273.33,394.72 273.19,394.80 273.05,394.87 272.90,394.95 272.76,395.02 272.62,395.09 272.47,395.16 272.33,395.24 272.18,395.31 272.03,395.38 271.88,395.45 271.73,395.52 271.58,395.60 271.43,395.67 271.27,395.74 271.12,395.81 270.96,395.88 270.80,395.95 270.65,396.02 270.49,396.09 270.33,396.16 270.16,396.23 270.00,396.30 269.84,396.37 269.67,396.44 269.51,396.51 269.34,396.58 269.17,396.65 269.00,396.71 268.83,396.78 268.66,396.85 268.49,396.92 268.32,396.99 268.14,397.06 267.97,397.13 267.79,397.20 267.61,397.26 267.43,397.33 267.25,397.40 267.07,397.47 266.89,397.54 266.71,397.61 266.52,397.67 266.34,397.74 266.15,397.81 265.96,397.88 265.77,397.95 265.58,398.02 265.39,398.08 265.20,398.15 265.01,398.22 264.82,398.29 264.62,398.36 264.42,398.43 264.23,398.50 264.03,398.57 263.83,398.63 263.63,398.70 263.43,398.77 263.23,398.84 263.02,398.91 262.82,398.98 262.61,399.05 262.40,399.12 262.20,399.19 261.99,399.26 261.78,399.33 261.57,399.40 261.36,399.47 261.14,399.54 260.93,399.61 260.71,399.68 260.50,399.75 260.28,399.82 260.06,399.89 259.84,399.96 259.62,400.03 259.40,400.10 259.18,400.17 258.95,400.24 258.73,400.31 258.50,400.38 258.28,400.45 258.05,400.52 257.82,400.59 257.59,400.67 257.36,400.74 257.13,400.81 256.89,400.88 256.66,400.95 256.42,401.02 256.19,401.10 255.95,401.17 255.71,401.24 255.47,401.31 255.23,401.38 254.99,401.46 254.75,401.53 254.51,401.60 254.26,401.67 254.02,401.75 253.77,401.82 253.52,401.89 253.27,401.97 253.02,402.04 252.77,402.11 252.52,402.19 252.27,402.26 252.01,402.33 251.76,402.41 251.50,402.48 251.25,402.55 250.99,402.63 250.73,402.70 250.47,402.77 250.21,402.85 249.95,402.92 249.68,403.00 249.42,403.07 249.15,403.14 248.89,403.22 248.62,403.29 248.35,403.37 248.08,403.44 247.81,403.52 247.54,403.59 247.27,403.66 247.00,403.74 246.72,403.81 246.45,403.89 246.17,403.96 245.90,404.04 245.62,404.11 245.34,404.19 245.06,404.26 244.78,404.34 244.50,404.41 244.21,404.49 243.93,404.56 243.64,404.64 243.36,404.71 243.07,404.79 242.78,404.86 242.49,404.94 242.20,405.01 241.91,405.08 241.62,405.16 241.33,405.23 241.03,405.31 240.74,405.38 240.44,405.46 240.14,405.53 239.85,405.61 239.55,405.68 239.25,405.76 238.95,405.83 238.64,405.91 238.34,405.98 238.04,406.06 237.73,406.13 237.43,406.21 237.12,406.28 236.81,406.36 236.50,406.43 236.19,406.51 235.88,406.58 235.57,406.66 235.26,406.73 234.95,406.80 234.63,406.88 234.32,406.95 234.00,407.03 233.68,407.10 233.36,407.18 233.04,407.25 232.72,407.33 232.40,407.40 232.08,407.47 231.76,407.55 231.43,407.62 231.11,407.70 230.78,407.77 230.46,407.84 230.13,407.92 229.80,407.99 229.47,408.07 229.14,408.14 228.81,408.21 228.47,408.29 228.14,408.36 227.81,408.43 227.47,408.51 227.13,408.58 226.80,408.65 226.46,408.73 226.12,408.80 225.78,408.87 225.44,408.95 225.10,409.02 224.75,409.09 224.41,409.17 224.06,409.24 223.72,409.31 223.37,409.38 223.02,409.46 222.68,409.53 222.33,409.60 221.98,409.67 221.62,409.74 221.27,409.82 220.92,409.89 220.57,409.96 220.21,410.03 219.85,410.10 219.50,410.18 219.14,410.25 218.78,410.32 218.42,410.39 218.06,410.46 217.70,410.53 217.34,410.61 216.98,410.68 216.61,410.75 216.25,410.82 215.88,410.89 215.51,410.96 215.15,411.03 214.78,411.10 214.41,411.17 214.04,411.24 213.67,411.31 213.30,411.38 212.92,411.45 212.55,411.52 212.17,411.59 211.80,411.66 211.42,411.73 211.04,411.80 210.67,411.87 210.29,411.94 209.91,412.01 209.53,412.08 209.14,412.15 208.76,412.22 208.38,412.29 207.99,412.36 207.61,412.42 207.22,412.49 206.84,412.56 206.45,412.63 206.06,412.70 205.67,412.77 205.28,412.83 204.89,412.90 204.50,412.97 204.10,413.04 203.71,413.11 203.32,413.17 202.92,413.24 202.52,413.31 202.13,413.38 201.73,413.44 201.33,413.51 200.93,413.58 200.53,413.64 200.13,413.71 199.72,413.78 199.32,413.84 198.92,413.91 198.51,413.98 198.11,414.04 197.70,414.11 197.29,414.17 196.89,414.24 196.48,414.31 196.07,414.37 195.66,414.44 195.24,414.50 194.83,414.57 194.42,414.63 194.00,414.70 193.59,414.76 193.17,414.83 192.76,414.89 192.34,414.96 191.92,415.02 191.50,415.09 191.08,415.15 190.66,415.22 190.24,415.28 189.82,415.34 189.40,415.41 188.97,415.47 188.55,415.53 188.12,415.60 187.70,415.66 187.27,415.72 186.84,415.79 186.42,415.85 185.99,415.91 185.56,415.98 185.13,416.04 184.69,416.10 184.26,416.16 183.83,416.23 183.39,416.29 182.96,416.35 182.52,416.41 182.09,416.47 181.65,416.53 181.21,416.60 180.77,416.66 180.33,416.72 179.89,416.78 179.45,416.84 179.01,416.90 178.57,416.96 178.13,417.02 177.68,417.08 177.24,417.14 176.79,417.20 176.35,417.26 175.90,417.32 175.45,417.38 175.00,417.44 174.55,417.50 174.10,417.56 173.65,417.62 173.20,417.68 172.75,417.74 172.29,417.80 171.84,417.86 171.39,417.92 170.93,417.98 170.47,418.04 170.02,418.09 169.56,418.15 169.10,418.21 168.64,418.27 168.18,418.33 167.72,418.38 167.26,418.44 166.80,418.50 166.34,418.56 165.87,418.61 165.41,418.67 164.95,418.73 164.48,418.78 164.01,418.84 163.55,418.90 163.08,418.95 162.61,419.01 162.14,419.07 161.67,419.12 161.20,419.18 160.73,419.23 160.26,419.29 159.79,419.35 159.31,419.40 158.84,419.46 158.36,419.51 157.89,419.57 157.41,419.62 156.94,419.68 156.46,419.73 155.98,419.78 155.50,419.84 155.02,419.89 154.54,419.95 154.06,420.00 153.58,420.05 153.10,420.11 152.62,420.16 152.13,420.22 151.65,420.27 151.16,420.32 150.68,420.37 150.19,420.43 149.70,420.48 149.22,420.53 148.73,420.58 148.24,420.64 147.75,420.69 147.26,420.74 146.77,420.79 146.28,420.84 145.79,420.90 145.29,420.95 144.80,421.00 144.31,421.05 143.81,421.10 143.32,421.15 142.82,421.20 142.32,421.25 141.83,421.30 141.33,421.35 140.83,421.40 140.33,421.45 139.83,421.50 139.33,421.55 138.83,421.60 138.33,421.65 137.83,421.70 137.32,421.75 136.82,421.80 136.32,421.85 135.81,421.90 135.31,421.95 134.80,422.00 134.29,422.04 133.79,422.09 133.28,422.14 132.77,422.19 132.26,422.24 131.75,422.28 131.24,422.33 130.73,422.38 130.22,422.43 129.71,422.47 129.19,422.52 128.68,422.57 128.17,422.61 127.65,422.66 127.14,422.71 126.62,422.75 126.11,422.80 125.59,422.84 125.07,422.89 124.55,422.93 124.04,422.98 123.52,423.03 123.00,423.07 122.48,423.12 121.96,423.16 121.44,423.21 120.91,423.25 120.39,423.29 119.87,423.34 119.35,423.38 118.82,423.43 118.30,423.47 117.77,423.51 117.25,423.56 116.72,423.60 116.19,423.64 115.67,423.69 115.14,423.73 114.61,423.77 114.08,423.82 113.55,423.86 113.02,423.90 112.49,423.94 111.96,423.99 111.43,424.03 110.90,424.07 110.36,424.11 109.83,424.15 109.30,424.19 108.76,424.23 108.23,424.28 107.69,424.32 107.16,424.36 106.62,424.40 106.08,424.44 105.55,424.48 105.01,424.52 104.47,424.56 103.93,424.60 103.39,424.64 102.85,424.68 102.31,424.72 101.77,424.76 101.23,424.79 100.69,424.83 100.15,424.87 99.60,424.91 99.06,424.95" fill="none" stroke="#ff00ff" stroke-width="2.65" stroke-linejoin="round" />
<circle cx="99.06" cy="338.64" r="3.0" fill="none" stroke="#ff00ff" stroke-width="1.5"/>
<circle cx="99.06" cy="424.95" r="3.0" fill="none" stroke="#ff00ff" stroke-width="1.5"/>
<circle cx="114.04" cy="339.77" r="3.0" fill="none" stroke="#ff00ff" stroke-width="1.5"/>
<circle cx="114.04" cy="423.82" r="3.0" fill="none" stroke="#ff00ff" stroke-width="1.5"/>
<circle cx="129.02" cy="341.06" r="3.0" fill="none" stroke="#ff00ff" stroke-width="1.5"/>
<circle cx="129.02" cy="422.54" r="3.0" fill="none" stroke="#ff00ff" stroke-width="1.5"/>
<circle cx="143.99" cy="342.51" r="3.0" fill="none" stroke="#ff00ff" stroke-width="1.5"/>
<circle cx="143.99" cy="421.08" r="3.0" fill="none" stroke="#ff00ff" stroke-width="1.5"/>
<circle cx="158.97" cy="344.15" r="3.0" fill="none" stroke="#ff00ff" stroke-width="1.5"/>
<circle cx="158.97" cy="419.44" r="3.0" fill="none" stroke="#ff00ff" stroke-width="1.5"/>
<circle cx="173.95" cy="346.01" r="3.0" fill="none" stroke="#ff00ff" stroke-width="1.5"/>
<circle cx="173.95" cy="417.58" r="3.0" fill="none" stroke="#ff00ff" stroke-width="1.5"/>
<circle cx="188.93" cy="348.11" r="3.0" fill="none" stroke="#ff00ff" stroke-width="1.5"/>
<circle cx="188.93" cy="415.48" r="3.0" fill="none" stroke="#ff00ff" stroke-width="1.5"/>
<circle cx="203.90" cy="350.52" r="3.0" fill="none" stroke="#ff00ff" stroke-width="1.5"/>
<circle cx="203.90" cy="413.07" r="3.0" fill="none" stroke="#ff00ff" stroke-width="1.5"/>
<circle cx="218.88" cy="353.29" r="3.0" fill="none" stroke="#ff00ff" stroke-width="1.5"/>
<circle cx="218.88" cy="410.30" r="3.0" fill="none" stroke="#ff00ff" stroke-width="1.5"/>
<circle cx="233.86" cy="356.53" r="3.0" fill="none" stroke="#ff00ff" stroke-width="1.5"/>
<circle cx="233.86" cy="407.06" r="3.0" fill="none" stroke="#ff00ff" stroke-width="1.5"/>
<circle cx="248.84" cy="360.36" r="3.0" fill="none" stroke="#ff00ff" stroke-width="1.5"/>
<circle cx="248.84" cy="403.23" r="3.0" fill="none" stroke="#ff00ff" stroke-width="1.5"/>
<circle cx="263.81" cy="364.95" r="3.0" fill="none" stroke="#ff00ff" stroke-width="1.5"/>
<circle cx="263.81" cy="398.64" r="3.0" fill="none" stroke="#ff00ff" stroke-width="1.5"/>
<circle cx="278.79" cy="373.01" r="3.0" fill="none" stroke="#ff00ff" stroke-width="1.5"/>
<circle cx="278.79" cy="390.58" r="3.0" fill="none" stroke="#ff00ff" stroke-width="1.5"/>
<line x1="283.19" y1="381.80" x2="473.50" y2="381.80" stroke="#ff0000" stroke-width="2.65" />
<circle cx="293.77" cy="381.80" r="3.0" fill="none" stroke="#ff0000" stroke-width="1.5"/>
<circle cx="308.75" cy="381.80" r="3.0" fill="none" stroke="#ff0000" stroke-width="1.5"/>
<circle cx="323.72" cy="381.80" r="3.0" fill="none" stroke="#ff0000" stroke-width="1.5"/>
<circle cx="338.70" cy="381.80" r="3.0" fill="none" stroke="#ff0000" stroke-width="1.5"/>
<circle cx="353.68" cy="381.80" r="3.0" fill="none" stroke="#ff0000" stroke-width="1.5"/>
<circle cx="368.66" cy="381.80" r="3.0" fill="none" stroke="#ff0000" stroke-width="1.5"/>
<circle cx="383.63" cy="381.80" r="3.0" fill="none" stroke="#ff0000" stroke-width="1.5"/>
<circle cx="398.61" cy="381.80" r="3.0" fill="none" stroke="#ff0000" stroke-width="1.5"/>
<circle cx="413.59" cy="381.80" r="3.0" fill="none" stroke="#ff0000" stroke-width="1.5"/>
<circle cx="428.57" cy="381.80" r="3.0" fill="none" stroke="#ff0000" stroke-width="1.5"/>
<circle cx="443.54" cy="381.80" r="3.0" fill="none" stroke="#ff0000" stroke-width="1.5"/>
<circle cx="458.52" cy="381.80" r="3.0" fill="none" stroke="#ff0000" stroke-width="1.5"/>
<circle cx="473.50" cy="381.80" r="3.0" fill="none" stroke="#ff0000" stroke-width="1.5"/>
<circle cx="235.22" cy="356.85" r="6.6" fill="#ff00ff" stroke="none" stroke-width="0"/>
<circle cx="235.22" cy="406.74" r="6.6" fill="#ff00ff" stroke="none" stroke-width="0"/>
<circle cx="371.38" cy="381.80" r="6.6" fill="#ff0000" stroke="none" stroke-width="0"/>
<text x="207.80" y="376.50" font-size="26" font-family="Liberation Serif, serif" text-anchor="start" fill="#000" >B</text>
<text x="208.00" y="404.00" font-size="26" font-family="Liberation Serif, serif" text-anchor="start" fill="#000"  textLength="18" lengthAdjust="spacingAndGlyphs">A</text>
<text x="378.60" y="372.50" font-size="26" font-family="Liberation Serif, serif" text-anchor="start" fill="#000"  textLength="16.8" lengthAdjust="spacingAndGlyphs">A</text>
<path d="M400.00,354.30 l-3.6,9.3 l-1.1,-0.5 l2.9,-9.4 q1.2,-0.5 1.8,0.6z" fill="#000"/>
<text x="403.20" y="372.50" font-size="26" font-family="Liberation Serif, serif" text-anchor="start" fill="#000" >(</text>
<text x="412.00" y="372.50" font-size="26" font-family="Liberation Serif, serif" text-anchor="start" fill="#000"  textLength="16.5" lengthAdjust="spacingAndGlyphs">B</text>
<path d="M432.80,354.30 l-3.6,9.3 l-1.1,-0.5 l2.9,-9.4 q1.2,-0.5 1.8,0.6z" fill="#000"/>
<text x="436.50" y="372.50" font-size="26" font-family="Liberation Serif, serif" text-anchor="start" fill="#000" >)</text>
<g transform="translate(49.7,382.5) rotate(-90)"><text x="0" y="0" font-size="26" font-family="Liberation Serif, serif" text-anchor="middle" textLength="63.5" lengthAdjust="spacingAndGlyphs">Re(<tspan font-style="italic">E</tspan>)</text></g>
<line x1="133.10" y1="547.20" x2="133.10" y2="543.20" stroke="#a2a2a2" stroke-width="1.2" />
<line x1="133.10" y1="443.60" x2="133.10" y2="447.60" stroke="#6e6e6e" stroke-width="1" />
<line x1="235.22" y1="547.20" x2="235.22" y2="543.20" stroke="#a2a2a2" stroke-width="1.2" />
<line x1="235.22" y1="443.60" x2="235.22" y2="447.60" stroke="#6e6e6e" stroke-width="1" />
<line x1="371.38" y1="547.20" x2="371.38" y2="543.20" stroke="#a2a2a2" stroke-width="1.2" />
<line x1="371.38" y1="443.60" x2="371.38" y2="447.60" stroke="#6e6e6e" stroke-width="1" />
<line x1="473.50" y1="547.20" x2="473.50" y2="543.20" stroke="#a2a2a2" stroke-width="1.2" />
<line x1="473.50" y1="443.60" x2="473.50" y2="447.60" stroke="#6e6e6e" stroke-width="1" />
<line x1="80.20" y1="530.10" x2="84.20" y2="530.10" stroke="#a2a2a2" stroke-width="1.2" />
<line x1="491.60" y1="530.10" x2="487.60" y2="530.10" stroke="#6e6e6e" stroke-width="1" />
<text x="53.80" y="538.40" font-size="20.7" font-family="Liberation Sans, sans-serif" text-anchor="start" fill="#000" >-1</text>
<line x1="80.20" y1="495.30" x2="84.20" y2="495.30" stroke="#a2a2a2" stroke-width="1.2" />
<line x1="491.60" y1="495.30" x2="487.60" y2="495.30" stroke="#6e6e6e" stroke-width="1" />
<text x="55.00" y="503.60" font-size="20.7" font-family="Liberation Sans, sans-serif" text-anchor="start" fill="#000" >0</text>
<line x1="80.20" y1="460.50" x2="84.20" y2="460.50" stroke="#a2a2a2" stroke-width="1.2" />
<line x1="491.60" y1="460.50" x2="487.60" y2="460.50" stroke="#6e6e6e" stroke-width="1" />
<text x="55.00" y="468.80" font-size="20.7" font-family="Liberation Sans, sans-serif" text-anchor="start" fill="#000" >1</text>
<path d="M80.2,443.6 V547.2 H491.6" fill="none" stroke="#a2a2a2" stroke-width="1.5"/>
<path d="M79.60000000000001,443.6 H491.6 V547.8000000000001" fill="none" stroke="#6e6e6e" stroke-width="1"/>
<text x="132.80" y="575.50" font-size="21" font-family="Liberation Sans, sans-serif" text-anchor="middle" fill="#000" >0.5</text>
<text x="234.92" y="575.50" font-size="21" font-family="Liberation Sans, sans-serif" text-anchor="middle" fill="#000" >0.8</text>
<text x="371.08" y="575.50" font-size="21" font-family="Liberation Sans, sans-serif" text-anchor="middle" fill="#000" >1.2</text>
<text x="473.20" y="575.50" font-size="21" font-family="Liberation Sans, sans-serif" text-anchor="middle" fill="#000" >1.5</text>
<line x1="235.22" y1="443.60" x2="235.22" y2="547.20" stroke="#333" stroke-width="1.15" stroke-dasharray="3.5,3.9"/>
<line x1="371.38" y1="443.60" x2="371.38" y2="547.20" stroke="#333" stroke-width="1.15" stroke-dasharray="3.5,3.9"/>
<polyline points="283.67,495.30 283.67,495.39 283.68,495.47 283.68,495.56 283.69,495.64 283.70,495.73 283.71,495.81 283.72,495.90 283.74,495.98 283.76,496.07 283.78,496.15 283.80,496.24 283.83,496.32 283.86,496.41 283.88,496.49 283.92,496.58 283.95,496.67 283.99,496.75 284.02,496.84 284.06,496.92 284.11,497.01 284.15,497.09 284.20,497.18 284.25,497.26 284.30,497.35 284.35,497.43 284.41,497.52 284.46,497.60 284.52,497.69 284.58,497.78 284.65,497.86 284.71,497.95 284.78,498.03 284.85,498.12 284.93,498.20 285.00,498.29 285.08,498.38 285.16,498.46 285.24,498.55 285.32,498.63 285.41,498.72 285.50,498.80 285.59,498.89 285.68,498.98 285.77,499.06 285.87,499.15 285.97,499.23 286.07,499.32 286.17,499.40 286.28,499.49 286.39,499.58 286.50,499.66 286.61,499.75 286.72,499.83 286.84,499.92 286.96,500.01 287.08,500.09 287.20,500.18 287.33,500.27 287.46,500.35 287.59,500.44 287.72,500.52 287.85,500.61 287.99,500.70 288.13,500.78 288.27,500.87 288.41,500.96 288.55,501.04 288.70,501.13 288.85,501.22 289.00,501.30 289.16,501.39 289.31,501.48 289.47,501.56 289.63,501.65 289.79,501.74 289.96,501.82 290.13,501.91 290.30,502.00 290.47,502.09 290.64,502.17 290.82,502.26 290.99,502.35 291.18,502.43 291.36,502.52 291.54,502.61 291.73,502.70 291.92,502.78 292.11,502.87 292.30,502.96 292.50,503.05 292.70,503.13 292.90,503.22 293.10,503.31 293.31,503.40 293.51,503.49 293.72,503.57 293.93,503.66 294.15,503.75 294.36,503.84 294.58,503.93 294.80,504.01 295.03,504.10 295.25,504.19 295.48,504.28 295.71,504.37 295.94,504.46 296.17,504.54 296.41,504.63 296.65,504.72 296.89,504.81 297.13,504.90 297.38,504.99 297.63,505.08 297.88,505.17 298.13,505.26 298.38,505.34 298.64,505.43 298.90,505.52 299.16,505.61 299.42,505.70 299.69,505.79 299.96,505.88 300.23,505.97 300.50,506.06 300.77,506.15 301.05,506.24 301.33,506.33 301.61,506.42 301.90,506.51 302.18,506.60 302.47,506.69 302.76,506.78 303.06,506.87 303.35,506.96 303.65,507.05 303.95,507.14 304.25,507.23 304.56,507.32 304.86,507.42 305.17,507.51 305.48,507.60 305.80,507.69 306.12,507.78 306.43,507.87 306.75,507.96 307.08,508.05 307.40,508.15 307.73,508.24 308.06,508.33 308.39,508.42 308.73,508.51 309.07,508.60 309.41,508.70 309.75,508.79 310.09,508.88 310.44,508.97 310.79,509.07 311.14,509.16 311.49,509.25 311.85,509.34 312.21,509.44 312.57,509.53 312.93,509.62 313.30,509.72 313.67,509.81 314.04,509.90 314.41,510.00 314.78,510.09 315.16,510.18 315.54,510.28 315.92,510.37 316.31,510.46 316.70,510.56 317.08,510.65 317.48,510.75 317.87,510.84 318.27,510.94 318.67,511.03 319.07,511.12 319.47,511.22 319.88,511.31 320.29,511.41 320.70,511.50 321.11,511.60 321.53,511.70 321.94,511.79 322.37,511.89 322.79,511.98 323.21,512.08 323.64,512.17 324.07,512.27 324.51,512.37 324.94,512.46 325.38,512.56 325.82,512.65 326.26,512.75 326.71,512.85 327.16,512.94 327.61,513.04 328.06,513.14 328.51,513.24 328.97,513.33 329.43,513.43 329.89,513.53 330.36,513.63 330.83,513.72 331.30,513.82 331.77,513.92 332.24,514.02 332.72,514.12 333.20,514.21 333.68,514.31 334.17,514.41 334.65,514.51 335.14,514.61 335.64,514.71 336.13,514.81 336.63,514.91 337.13,515.01 337.63,515.11 338.14,515.20 338.65,515.30 339.16,515.40 339.67,515.50 340.18,515.61 340.70,515.71 341.22,515.81 341.74,515.91 342.27,516.01 342.80,516.11 343.33,516.21 343.86,516.31 344.40,516.41 344.94,516.51 345.48,516.62 346.02,516.72 346.57,516.82 347.12,516.92 347.67,517.02 348.22,517.13 348.78,517.23 349.34,517.33 349.90,517.43 350.46,517.54 351.03,517.64 351.60,517.74 352.17,517.85 352.75,517.95 353.33,518.05 353.91,518.16 354.49,518.26 355.07,518.37 355.66,518.47 356.25,518.57 356.85,518.68 357.44,518.78 358.04,518.89 358.64,518.99 359.25,519.10 359.85,519.21 360.46,519.31 361.08,519.42 361.69,519.52 362.31,519.63 362.93,519.74 363.55,519.84 364.18,519.95 364.81,520.05 365.44,520.16 366.07,520.27 366.71,520.38 367.35,520.48 367.99,520.59 368.63,520.70 369.28,520.81 369.93,520.92 370.58,521.02 371.24,521.13 371.90,521.24 372.56,521.35 373.22,521.46 373.89,521.57 374.56,521.68 375.23,521.79 375.91,521.90 376.59,522.01 377.27,522.12 377.95,522.23 378.64,522.34 379.33,522.45 380.02,522.56 380.71,522.67 381.41,522.78 382.11,522.89 382.81,523.00 383.52,523.12 384.23,523.23 384.94,523.34 385.66,523.45 386.37,523.56 387.10,523.68 387.82,523.79 388.54,523.90 389.27,524.02 390.01,524.13 390.74,524.24 391.48,524.36 392.22,524.47 392.96,524.59 393.71,524.70 394.46,524.81 395.21,524.93 395.97,525.04 396.72,525.16 397.49,525.28 398.25,525.39 399.02,525.51 399.79,525.62 400.56,525.74 401.34,525.86 402.11,525.97 402.90,526.09 403.68,526.21 404.47,526.32 405.26,526.44 406.05,526.56 406.85,526.68 407.65,526.79 408.45,526.91 409.26,527.03 410.07,527.15 410.88,527.27 411.69,527.39 412.51,527.51 413.33,527.63 414.16,527.75 414.98,527.87 415.81,527.99 416.65,528.11 417.48,528.23 418.32,528.35 419.17,528.47 420.01,528.59 420.86,528.71 421.71,528.84 422.57,528.96 423.42,529.08 424.28,529.20 425.15,529.33 426.02,529.45 426.89,529.57 427.76,529.70 428.64,529.82 429.52,529.94 430.40,530.07 431.29,530.19 432.17,530.32 433.07,530.44 433.96,530.57 434.86,530.69 435.76,530.82 436.67,530.94 437.58,531.07 438.49,531.20 439.40,531.32 440.32,531.45 441.24,531.58 442.17,531.70 443.10,531.83 444.03,531.96 444.96,532.09 445.90,532.22 446.84,532.34 447.78,532.47 448.73,532.60 449.68,532.73 450.64,532.86 451.59,532.99 452.55,533.12 453.52,533.25 454.48,533.38 455.45,533.51 456.43,533.64 457.41,533.78 458.39,533.91 459.37,534.04 460.36,534.17 461.35,534.30 462.34,534.44 463.34,534.57 464.34,534.70 465.34,534.84 466.35,534.97 467.36,535.10 468.38,535.24 469.39,535.37 470.42,535.51 471.44,535.64 472.47,535.78 473.50,535.91" fill="none" stroke="#0000ff" stroke-width="2.65" stroke-linejoin="round" />
<polyline points="283.67,495.30 283.67,495.21 283.68,495.13 283.68,495.04 283.69,494.96 283.70,494.87 283.71,494.79 283.72,494.70 283.74,494.62 283.76,494.53 283.78,494.45 283.80,494.36 283.83,494.28 283.86,494.19 283.88,494.11 283.92,494.02 283.95,493.93 283.99,493.85 284.02,493.76 284.06,493.68 284.11,493.59 284.15,493.51 284.20,493.42 284.25,493.34 284.30,493.25 284.35,493.17 284.41,493.08 284.46,493.00 284.52,492.91 284.58,492.82 284.65,492.74 284.71,492.65 284.78,492.57 284.85,492.48 284.93,492.40 285.00,492.31 285.08,492.22 285.16,492.14 285.24,492.05 285.32,491.97 285.41,491.88 285.50,491.80 285.59,491.71 285.68,491.62 285.77,491.54 285.87,491.45 285.97,491.37 286.07,491.28 286.17,491.20 286.28,491.11 286.39,491.02 286.50,490.94 286.61,490.85 286.72,490.77 286.84,490.68 286.96,490.59 287.08,490.51 287.20,490.42 287.33,490.33 287.46,490.25 287.59,490.16 287.72,490.08 287.85,489.99 287.99,489.90 288.13,489.82 288.27,489.73 288.41,489.64 288.55,489.56 288.70,489.47 288.85,489.38 289.00,489.30 289.16,489.21 289.31,489.12 289.47,489.04 289.63,488.95 289.79,488.86 289.96,488.78 290.13,488.69 290.30,488.60 290.47,488.51 290.64,488.43 290.82,488.34 290.99,488.25 291.18,488.17 291.36,488.08 291.54,487.99 291.73,487.90 291.92,487.82 292.11,487.73 292.30,487.64 292.50,487.55 292.70,487.47 292.90,487.38 293.10,487.29 293.31,487.20 293.51,487.11 293.72,487.03 293.93,486.94 294.15,486.85 294.36,486.76 294.58,486.67 294.80,486.59 295.03,486.50 295.25,486.41 295.48,486.32 295.71,486.23 295.94,486.14 296.17,486.06 296.41,485.97 296.65,485.88 296.89,485.79 297.13,485.70 297.38,485.61 297.63,485.52 297.88,485.43 298.13,485.34 298.38,485.26 298.64,485.17 298.90,485.08 299.16,484.99 299.42,484.90 299.69,484.81 299.96,484.72 300.23,484.63 300.50,484.54 300.77,484.45 301.05,484.36 301.33,484.27 301.61,484.18 301.90,484.09 302.18,484.00 302.47,483.91 302.76,483.82 303.06,483.73 303.35,483.64 303.65,483.55 303.95,483.46 304.25,483.37 304.56,483.28 304.86,483.18 305.17,483.09 305.48,483.00 305.80,482.91 306.12,482.82 306.43,482.73 306.75,482.64 307.08,482.55 307.40,482.45 307.73,482.36 308.06,482.27 308.39,482.18 308.73,482.09 309.07,482.00 309.41,481.90 309.75,481.81 310.09,481.72 310.44,481.63 310.79,481.53 311.14,481.44 311.49,481.35 311.85,481.26 312.21,481.16 312.57,481.07 312.93,480.98 313.30,480.88 313.67,480.79 314.04,480.70 314.41,480.60 314.78,480.51 315.16,480.42 315.54,480.32 315.92,480.23 316.31,480.14 316.70,480.04 317.08,479.95 317.48,479.85 317.87,479.76 318.27,479.66 318.67,479.57 319.07,479.48 319.47,479.38 319.88,479.29 320.29,479.19 320.70,479.10 321.11,479.00 321.53,478.90 321.94,478.81 322.37,478.71 322.79,478.62 323.21,478.52 323.64,478.43 324.07,478.33 324.51,478.23 324.94,478.14 325.38,478.04 325.82,477.95 326.26,477.85 326.71,477.75 327.16,477.66 327.61,477.56 328.06,477.46 328.51,477.36 328.97,477.27 329.43,477.17 329.89,477.07 330.36,476.97 330.83,476.88 331.30,476.78 331.77,476.68 332.24,476.58 332.72,476.48 333.20,476.39 333.68,476.29 334.17,476.19 334.65,476.09 335.14,475.99 335.64,475.89 336.13,475.79 336.63,475.69 337.13,475.59 337.63,475.49 338.14,475.40 338.65,475.30 339.16,475.20 339.67,475.10 340.18,474.99 340.70,474.89 341.22,474.79 341.74,474.69 342.27,474.59 342.80,474.49 343.33,474.39 343.86,474.29 344.40,474.19 344.94,474.09 345.48,473.98 346.02,473.88 346.57,473.78 347.12,473.68 347.67,473.58 348.22,473.47 348.78,473.37 349.34,473.27 349.90,473.17 350.46,473.06 351.03,472.96 351.60,472.86 352.17,472.75 352.75,472.65 353.33,472.55 353.91,472.44 354.49,472.34 355.07,472.23 355.66,472.13 356.25,472.03 356.85,471.92 357.44,471.82 358.04,471.71 358.64,471.61 359.25,471.50 359.85,471.39 360.46,471.29 361.08,471.18 361.69,471.08 362.31,470.97 362.93,470.86 363.55,470.76 364.18,470.65 364.81,470.55 365.44,470.44 366.07,470.33 366.71,470.22 367.35,470.12 367.99,470.01 368.63,469.90 369.28,469.79 369.93,469.68 370.58,469.58 371.24,469.47 371.90,469.36 372.56,469.25 373.22,469.14 373.89,469.03 374.56,468.92 375.23,468.81 375.91,468.70 376.59,468.59 377.27,468.48 377.95,468.37 378.64,468.26 379.33,468.15 380.02,468.04 380.71,467.93 381.41,467.82 382.11,467.71 382.81,467.60 383.52,467.48 384.23,467.37 384.94,467.26 385.66,467.15 386.37,467.04 387.10,466.92 387.82,466.81 388.54,466.70 389.27,466.58 390.01,466.47 390.74,466.36 391.48,466.24 392.22,466.13 392.96,466.01 393.71,465.90 394.46,465.79 395.21,465.67 395.97,465.56 396.72,465.44 397.49,465.32 398.25,465.21 399.02,465.09 399.79,464.98 400.56,464.86 401.34,464.74 402.11,464.63 402.90,464.51 403.68,464.39 404.47,464.28 405.26,464.16 406.05,464.04 406.85,463.92 407.65,463.81 408.45,463.69 409.26,463.57 410.07,463.45 410.88,463.33 411.69,463.21 412.51,463.09 413.33,462.97 414.16,462.85 414.98,462.73 415.81,462.61 416.65,462.49 417.48,462.37 418.32,462.25 419.17,462.13 420.01,462.01 420.86,461.89 421.71,461.76 422.57,461.64 423.42,461.52 424.28,461.40 425.15,461.27 426.02,461.15 426.89,461.03 427.76,460.90 428.64,460.78 429.52,460.66 430.40,460.53 431.29,460.41 432.17,460.28 433.07,460.16 433.96,460.03 434.86,459.91 435.76,459.78 436.67,459.66 437.58,459.53 438.49,459.40 439.40,459.28 440.32,459.15 441.24,459.02 442.17,458.90 443.10,458.77 444.03,458.64 444.96,458.51 445.90,458.38 446.84,458.26 447.78,458.13 448.73,458.00 449.68,457.87 450.64,457.74 451.59,457.61 452.55,457.48 453.52,457.35 454.48,457.22 455.45,457.09 456.43,456.96 457.41,456.82 458.39,456.69 459.37,456.56 460.36,456.43 461.35,456.30 462.34,456.16 463.34,456.03 464.34,455.90 465.34,455.76 466.35,455.63 467.36,455.50 468.38,455.36 469.39,455.23 470.42,455.09 471.44,454.96 472.47,454.82 473.50,454.69" fill="none" stroke="#ff0000" stroke-width="2.65" stroke-linejoin="round" />
<circle cx="293.77" cy="487.01" r="3.0" fill="none" stroke="#ff0000" stroke-width="1.5"/>
<circle cx="293.77" cy="503.59" r="3.0" fill="none" stroke="#0000ff" stroke-width="1.5"/>
<circle cx="308.75" cy="482.08" r="3.0" fill="none" stroke="#ff0000" stroke-width="1.5"/>
<circle cx="308.75" cy="508.52" r="3.0" fill="none" stroke="#0000ff" stroke-width="1.5"/>
<circle cx="323.72" cy="478.41" r="3.0" fill="none" stroke="#ff0000" stroke-width="1.5"/>
<circle cx="323.72" cy="512.19" r="3.0" fill="none" stroke="#0000ff" stroke-width="1.5"/>
<circle cx="338.70" cy="475.28" r="3.0" fill="none" stroke="#ff0000" stroke-width="1.5"/>
<circle cx="338.70" cy="515.32" r="3.0" fill="none" stroke="#0000ff" stroke-width="1.5"/>
<circle cx="353.68" cy="472.48" r="3.0" fill="none" stroke="#ff0000" stroke-width="1.5"/>
<circle cx="353.68" cy="518.12" r="3.0" fill="none" stroke="#0000ff" stroke-width="1.5"/>
<circle cx="368.66" cy="469.90" r="3.0" fill="none" stroke="#ff0000" stroke-width="1.5"/>
<circle cx="368.66" cy="520.70" r="3.0" fill="none" stroke="#0000ff" stroke-width="1.5"/>
<circle cx="383.63" cy="467.47" r="3.0" fill="none" stroke="#ff0000" stroke-width="1.5"/>
<circle cx="383.63" cy="523.13" r="3.0" fill="none" stroke="#0000ff" stroke-width="1.5"/>
<circle cx="398.61" cy="465.15" r="3.0" fill="none" stroke="#ff0000" stroke-width="1.5"/>
<circle cx="398.61" cy="525.45" r="3.0" fill="none" stroke="#0000ff" stroke-width="1.5"/>
<circle cx="413.59" cy="462.93" r="3.0" fill="none" stroke="#ff0000" stroke-width="1.5"/>
<circle cx="413.59" cy="527.67" r="3.0" fill="none" stroke="#0000ff" stroke-width="1.5"/>
<circle cx="428.57" cy="460.79" r="3.0" fill="none" stroke="#ff0000" stroke-width="1.5"/>
<circle cx="428.57" cy="529.81" r="3.0" fill="none" stroke="#0000ff" stroke-width="1.5"/>
<circle cx="443.54" cy="458.71" r="3.0" fill="none" stroke="#ff0000" stroke-width="1.5"/>
<circle cx="443.54" cy="531.89" r="3.0" fill="none" stroke="#0000ff" stroke-width="1.5"/>
<circle cx="458.52" cy="456.67" r="3.0" fill="none" stroke="#ff0000" stroke-width="1.5"/>
<circle cx="458.52" cy="533.93" r="3.0" fill="none" stroke="#0000ff" stroke-width="1.5"/>
<circle cx="473.50" cy="454.69" r="3.0" fill="none" stroke="#ff0000" stroke-width="1.5"/>
<circle cx="473.50" cy="535.91" r="3.0" fill="none" stroke="#0000ff" stroke-width="1.5"/>
<line x1="99.06" y1="495.30" x2="283.67" y2="495.30" stroke="#ff00ff" stroke-width="2.65" />
<circle cx="99.06" cy="495.30" r="3.0" fill="none" stroke="#ff00ff" stroke-width="1.5"/>
<circle cx="114.04" cy="495.30" r="3.0" fill="none" stroke="#ff00ff" stroke-width="1.5"/>
<circle cx="129.02" cy="495.30" r="3.0" fill="none" stroke="#ff00ff" stroke-width="1.5"/>
<circle cx="143.99" cy="495.30" r="3.0" fill="none" stroke="#ff00ff" stroke-width="1.5"/>
<circle cx="158.97" cy="495.30" r="3.0" fill="none" stroke="#ff00ff" stroke-width="1.5"/>
<circle cx="173.95" cy="495.30" r="3.0" fill="none" stroke="#ff00ff" stroke-width="1.5"/>
<circle cx="188.93" cy="495.30" r="3.0" fill="none" stroke="#ff00ff" stroke-width="1.5"/>
<circle cx="203.90" cy="495.30" r="3.0" fill="none" stroke="#ff00ff" stroke-width="1.5"/>
<circle cx="218.88" cy="495.30" r="3.0" fill="none" stroke="#ff00ff" stroke-width="1.5"/>
<circle cx="233.86" cy="495.30" r="3.0" fill="none" stroke="#ff00ff" stroke-width="1.5"/>
<circle cx="248.84" cy="495.30" r="3.0" fill="none" stroke="#ff00ff" stroke-width="1.5"/>
<circle cx="263.81" cy="495.30" r="3.0" fill="none" stroke="#ff00ff" stroke-width="1.5"/>
<circle cx="278.79" cy="495.30" r="3.0" fill="none" stroke="#ff00ff" stroke-width="1.5"/>
<circle cx="235.22" cy="495.30" r="6.6" fill="#ff00ff" stroke="none" stroke-width="0"/>
<circle cx="371.38" cy="469.44" r="6.6" fill="#ff0000" stroke="none" stroke-width="0"/>
<circle cx="371.38" cy="521.16" r="6.6" fill="#0000ff" stroke="none" stroke-width="0"/>
<text x="174.10" y="481.80" font-size="26" font-family="Liberation Serif, serif" text-anchor="start" fill="#000"  textLength="54" lengthAdjust="spacingAndGlyphs">A(B)</text>
<text x="381.60" y="487.90" font-size="26" font-family="Liberation Serif, serif" text-anchor="start" fill="#000"  textLength="18" lengthAdjust="spacingAndGlyphs">A</text>
<path d="M404.80,469.30 l-3.6,9.3 l-1.1,-0.5 l2.9,-9.4 q1.2,-0.5 1.8,0.6z" fill="#000"/>
<text x="381.90" y="517.50" font-size="26" font-family="Liberation Serif, serif" text-anchor="start" fill="#000" >B</text>
<path d="M404.30,499.10 l-3.6,9.3 l-1.1,-0.5 l2.9,-9.4 q1.2,-0.5 1.8,0.6z" fill="#000"/>
<g transform="translate(42.5,496) rotate(-90)"><text x="0" y="0" font-size="26" font-family="Liberation Serif, serif" text-anchor="middle" textLength="63.5" lengthAdjust="spacingAndGlyphs">Im(<tspan font-style="italic">E</tspan>)</text></g>
<text x="275.7" y="591.7" font-size="25" font-family="Liberation Serif, serif" font-style="italic" textLength="13" lengthAdjust="spacingAndGlyphs">γ</text>
<line x1="290.30" y1="597.70" x2="300.20" y2="574.50" stroke="#000" stroke-width="1.25" />
<text x="301.5" y="591.7" font-size="25" font-family="Liberation Serif, serif" font-style="italic" textLength="7.5" lengthAdjust="spacingAndGlyphs">t</text>
<text x="210.5" y="625.6" font-size="24" font-family="Liberation Serif, serif" font-style="italic" textLength="13.5" lengthAdjust="spacingAndGlyphs">ϕ</text>
<line x1="227.30" y1="631.80" x2="236.90" y2="606.80" stroke="#000" stroke-width="1.25" />
<text x="238.6" y="625.6" font-size="23.5" font-family="Liberation Serif, serif" font-style="italic" textLength="14.2" lengthAdjust="spacingAndGlyphs">π</text>
<line x1="262.70" y1="616.60" x2="280.40" y2="616.60" stroke="#000" stroke-width="1.1" />
<line x1="262.70" y1="622.80" x2="280.40" y2="622.80" stroke="#000" stroke-width="1.1" />
<text x="290.00" y="625.60" font-size="25" font-family="Liberation Serif, serif" text-anchor="start" fill="#000"  textLength="44.5" lengthAdjust="spacingAndGlyphs">5.15</text>
<line x1="336.70" y1="631.80" x2="346.30" y2="606.80" stroke="#000" stroke-width="1.25" />
<text x="348.80" y="625.60" font-size="25" font-family="Liberation Serif, serif" text-anchor="start" fill="#000"  textLength="11.5" lengthAdjust="spacingAndGlyphs">3</text>
<line x1="133.10" y1="740.10" x2="133.10" y2="736.10" stroke="#a2a2a2" stroke-width="1.2" />
<line x1="133.10" y1="636.30" x2="133.10" y2="640.30" stroke="#6e6e6e" stroke-width="1" />
<line x1="303.30" y1="740.10" x2="303.30" y2="736.10" stroke="#a2a2a2" stroke-width="1.2" />
<line x1="303.30" y1="636.30" x2="303.30" y2="640.30" stroke="#6e6e6e" stroke-width="1" />
<line x1="473.50" y1="740.10" x2="473.50" y2="736.10" stroke="#a2a2a2" stroke-width="1.2" />
<line x1="473.50" y1="636.30" x2="473.50" y2="640.30" stroke="#6e6e6e" stroke-width="1" />
<line x1="80.20" y1="719.80" x2="84.20" y2="719.80" stroke="#a2a2a2" stroke-width="1.2" />
<line x1="491.60" y1="719.80" x2="487.60" y2="719.80" stroke="#6e6e6e" stroke-width="1" />
<text x="61.20" y="728.10" font-size="20.7" font-family="Liberation Sans, sans-serif" text-anchor="start" fill="#000" >1</text>
<line x1="80.20" y1="674.30" x2="84.20" y2="674.30" stroke="#a2a2a2" stroke-width="1.2" />
<line x1="491.60" y1="674.30" x2="487.60" y2="674.30" stroke="#6e6e6e" stroke-width="1" />
<text x="61.20" y="682.60" font-size="20.7" font-family="Liberation Sans, sans-serif" text-anchor="start" fill="#000" >2</text>
<path d="M80.2,636.3 V740.1 H491.6" fill="none" stroke="#a2a2a2" stroke-width="1.5"/>
<path d="M79.60000000000001,636.3 H491.6 V740.7" fill="none" stroke="#6e6e6e" stroke-width="1"/>
<line x1="235.22" y1="636.30" x2="235.22" y2="740.10" stroke="#333" stroke-width="1.15" stroke-dasharray="3.5,3.9"/>
<line x1="371.38" y1="636.30" x2="371.38" y2="740.10" stroke="#333" stroke-width="1.15" stroke-dasharray="3.5,3.9"/>
<polyline points="99.06,644.90 100.31,644.95 101.56,645.01 102.80,645.06 104.05,645.11 105.30,645.17 106.55,645.22 107.80,645.28 109.05,645.34 110.29,645.40 111.54,645.45 112.79,645.51 114.04,645.57 115.29,645.63 116.53,645.69 117.78,645.75 119.03,645.81 120.28,645.88 121.53,645.94 122.77,646.00 124.02,646.07 125.27,646.13 126.52,646.20 127.77,646.26 129.02,646.33 130.26,646.39 131.51,646.46 132.76,646.53 134.01,646.60 135.26,646.66 136.50,646.73 137.75,646.80 139.00,646.87 140.25,646.94 141.50,647.01 142.74,647.08 143.99,647.16 145.24,647.23 146.49,647.30 147.74,647.37 148.99,647.45 150.23,647.52 151.48,647.60 152.73,647.67 153.98,647.75 155.23,647.82 156.47,647.90 157.72,647.98 158.97,648.05 160.22,648.13 161.47,648.21 162.71,648.29 163.96,648.36 165.21,648.44 166.46,648.52 167.71,648.60 168.96,648.68 170.20,648.76 171.45,648.84 172.70,648.92 173.95,649.00 175.20,649.09 176.44,649.17 177.69,649.25 178.94,649.33 180.19,649.42 181.44,649.50 182.68,649.58 183.93,649.67 185.18,649.75 186.43,649.83 187.68,649.92 188.93,650.00 190.17,650.09 191.42,650.17 192.67,650.26 193.92,650.35 195.17,650.43 196.41,650.52 197.66,650.61 198.91,650.69 200.16,650.78 201.41,650.87 202.66,650.96 203.90,651.04 205.15,651.13 206.40,651.22 207.65,651.31 208.90,651.40 210.14,651.48 211.39,651.57 212.64,651.66 213.89,651.75 215.14,651.84 216.38,651.93 217.63,652.02 218.88,652.11 220.13,652.20 221.38,652.29 222.63,652.38 223.87,652.47 225.12,652.56 226.37,652.65 227.62,652.74 228.87,652.84 230.11,652.93 231.36,653.02 232.61,653.11 233.86,653.20 235.11,653.29 236.35,653.38 237.60,653.47 238.85,653.57 240.10,653.66 241.35,653.75 242.60,653.84 243.84,653.93 245.09,654.03 246.34,654.12 247.59,654.21 248.84,654.30 250.08,654.39 251.33,654.48 252.58,654.58 253.83,654.67 255.08,654.76 256.32,654.85 257.57,654.94 258.82,655.04 260.07,655.13 261.32,655.22 262.57,655.31 263.81,655.40 265.06,655.50 266.31,655.59 267.56,655.68 268.81,655.77 270.05,655.86 271.30,655.95 272.55,656.05 273.80,656.14 275.05,656.23 276.29,656.32 277.54,656.41 278.79,656.50 280.04,656.59 281.29,656.68 282.54,656.77 283.78,656.86 285.03,656.95 286.28,657.05 287.53,657.14 288.78,657.23 290.02,657.31 291.27,657.40 292.52,657.49 293.77,657.58 295.02,657.67 296.27,657.76 297.51,657.85 298.76,657.94 300.01,658.03 301.26,658.12 302.51,658.20 303.75,658.29 305.00,658.38 306.25,658.47 307.50,658.55 308.75,658.64 309.99,658.73 311.24,658.81 312.49,658.90 313.74,658.99 314.99,659.07 316.24,659.16 317.48,659.24 318.73,659.33 319.98,659.41 321.23,659.50 322.48,659.58 323.72,659.67 324.97,659.75 326.22,659.83 327.47,659.92 328.72,660.00 329.96,660.08 331.21,660.16 332.46,660.24 333.71,660.33 334.96,660.41 336.21,660.49 337.45,660.57 338.70,660.65 339.95,660.73 341.20,660.81 342.45,660.89 343.69,660.96 344.94,661.04 346.19,661.12 347.44,661.20 348.69,661.27 349.93,661.35 351.18,661.43 352.43,661.50 353.68,661.58 354.93,661.65 356.18,661.73 357.42,661.80 358.67,661.88 359.92,661.95 361.17,662.02 362.42,662.09 363.66,662.17 364.91,662.24 366.16,662.31 367.41,662.38 368.66,662.45 369.90,662.52 371.15,662.59 372.40,662.66 373.65,662.72 374.90,662.79 376.15,662.86 377.39,662.93 378.64,662.99 379.89,663.06 381.14,663.12 382.39,663.19 383.63,663.25 384.88,663.31 386.13,663.38 387.38,663.44 388.63,663.50 389.88,663.56 391.12,663.62 392.37,663.68 393.62,663.74 394.87,663.80 396.12,663.86 397.36,663.92 398.61,663.97 399.86,664.03 401.11,664.09 402.36,664.14 403.60,664.20 404.85,664.25 406.10,664.30 407.35,664.36 408.60,664.41 409.85,664.46 411.09,664.51 412.34,664.56 413.59,664.61 414.84,664.66 416.09,664.71 417.33,664.75 418.58,664.80 419.83,664.85 421.08,664.89 422.33,664.94 423.57,664.98 424.82,665.02 426.07,665.07 427.32,665.11 428.57,665.15 429.82,665.19 431.06,665.23 432.31,665.27 433.56,665.31 434.81,665.34 436.06,665.38 437.30,665.42 438.55,665.45 439.80,665.48 441.05,665.52 442.30,665.55 443.54,665.58 444.79,665.61 446.04,665.64 447.29,665.67 448.54,665.70 449.79,665.73 451.03,665.76 452.28,665.78 453.53,665.81 454.78,665.83 456.03,665.86 457.27,665.88 458.52,665.90 459.77,665.92 461.02,665.94 462.27,665.96 463.51,665.98 464.76,666.00 466.01,666.02 467.26,666.03 468.51,666.05 469.76,666.06 471.00,666.08 472.25,666.09 473.50,666.10" fill="none" stroke="#ff0000" stroke-width="2.65" stroke-linejoin="round" />
<circle cx="99.06" cy="644.90" r="3.0" fill="none" stroke="#ff0000" stroke-width="1.5"/>
<circle cx="114.04" cy="645.57" r="3.0" fill="none" stroke="#ff0000" stroke-width="1.5"/>
<circle cx="129.02" cy="646.33" r="3.0" fill="none" stroke="#ff0000" stroke-width="1.5"/>
<circle cx="143.99" cy="647.16" r="3.0" fill="none" stroke="#ff0000" stroke-width="1.5"/>
<circle cx="158.97" cy="648.05" r="3.0" fill="none" stroke="#ff0000" stroke-width="1.5"/>
<circle cx="173.95" cy="649.00" r="3.0" fill="none" stroke="#ff0000" stroke-width="1.5"/>
<circle cx="188.93" cy="650.00" r="3.0" fill="none" stroke="#ff0000" stroke-width="1.5"/>
<circle cx="203.90" cy="651.04" r="3.0" fill="none" stroke="#ff0000" stroke-width="1.5"/>
<circle cx="218.88" cy="652.11" r="3.0" fill="none" stroke="#ff0000" stroke-width="1.5"/>
<circle cx="233.86" cy="653.20" r="3.0" fill="none" stroke="#ff0000" stroke-width="1.5"/>
<circle cx="248.84" cy="654.30" r="3.0" fill="none" stroke="#ff0000" stroke-width="1.5"/>
<circle cx="263.81" cy="655.40" r="3.0" fill="none" stroke="#ff0000" stroke-width="1.5"/>
<circle cx="278.79" cy="656.50" r="3.0" fill="none" stroke="#ff0000" stroke-width="1.5"/>
<circle cx="293.77" cy="657.58" r="3.0" fill="none" stroke="#ff0000" stroke-width="1.5"/>
<circle cx="308.75" cy="658.64" r="3.0" fill="none" stroke="#ff0000" stroke-width="1.5"/>
<circle cx="323.72" cy="659.67" r="3.0" fill="none" stroke="#ff0000" stroke-width="1.5"/>
<circle cx="338.70" cy="660.65" r="3.0" fill="none" stroke="#ff0000" stroke-width="1.5"/>
<circle cx="353.68" cy="661.58" r="3.0" fill="none" stroke="#ff0000" stroke-width="1.5"/>
<circle cx="368.66" cy="662.45" r="3.0" fill="none" stroke="#ff0000" stroke-width="1.5"/>
<circle cx="383.63" cy="663.25" r="3.0" fill="none" stroke="#ff0000" stroke-width="1.5"/>
<circle cx="398.61" cy="663.97" r="3.0" fill="none" stroke="#ff0000" stroke-width="1.5"/>
<circle cx="413.59" cy="664.61" r="3.0" fill="none" stroke="#ff0000" stroke-width="1.5"/>
<circle cx="428.57" cy="665.15" r="3.0" fill="none" stroke="#ff0000" stroke-width="1.5"/>
<circle cx="443.54" cy="665.58" r="3.0" fill="none" stroke="#ff0000" stroke-width="1.5"/>
<circle cx="458.52" cy="665.90" r="3.0" fill="none" stroke="#ff0000" stroke-width="1.5"/>
<circle cx="473.50" cy="666.10" r="3.0" fill="none" stroke="#ff0000" stroke-width="1.5"/>
<polyline points="99.06,731.50 100.31,731.46 101.56,731.41 102.80,731.37 104.05,731.32 105.30,731.27 106.55,731.22 107.80,731.17 109.05,731.12 110.29,731.07 111.54,731.02 112.79,730.97 114.04,730.92 115.29,730.86 116.53,730.81 117.78,730.75 119.03,730.69 120.28,730.64 121.53,730.58 122.77,730.52 124.02,730.46 125.27,730.40 126.52,730.34 127.77,730.28 129.02,730.22 130.26,730.15 131.51,730.09 132.76,730.02 134.01,729.96 135.26,729.89 136.50,729.83 137.75,729.76 139.00,729.69 140.25,729.62 141.50,729.55 142.74,729.48 143.99,729.41 145.24,729.34 146.49,729.27 147.74,729.20 148.99,729.12 150.23,729.05 151.48,728.98 152.73,728.90 153.98,728.82 155.23,728.75 156.47,728.67 157.72,728.59 158.97,728.52 160.22,728.44 161.47,728.36 162.71,728.28 163.96,728.20 165.21,728.12 166.46,728.04 167.71,727.96 168.96,727.88 170.20,727.79 171.45,727.71 172.70,727.63 173.95,727.54 175.20,727.46 176.44,727.37 177.69,727.29 178.94,727.20 180.19,727.12 181.44,727.03 182.68,726.94 183.93,726.86 185.18,726.77 186.43,726.68 187.68,726.59 188.93,726.50 190.17,726.41 191.42,726.32 192.67,726.23 193.92,726.14 195.17,726.05 196.41,725.96 197.66,725.87 198.91,725.78 200.16,725.69 201.41,725.59 202.66,725.50 203.90,725.41 205.15,725.32 206.40,725.22 207.65,725.13 208.90,725.03 210.14,724.94 211.39,724.84 212.64,724.75 213.89,724.65 215.14,724.56 216.38,724.46 217.63,724.37 218.88,724.27 220.13,724.18 221.38,724.08 222.63,723.98 223.87,723.89 225.12,723.79 226.37,723.69 227.62,723.60 228.87,723.50 230.11,723.40 231.36,723.30 232.61,723.20 233.86,723.11 235.11,723.01 236.35,722.91 237.60,722.81 238.85,722.71 240.10,722.62 241.35,722.52 242.60,722.42 243.84,722.32 245.09,722.22 246.34,722.12 247.59,722.02 248.84,721.92 250.08,721.83 251.33,721.73 252.58,721.63 253.83,721.53 255.08,721.43 256.32,721.33 257.57,721.23 258.82,721.13 260.07,721.03 261.32,720.94 262.57,720.84 263.81,720.74 265.06,720.64 266.31,720.54 267.56,720.44 268.81,720.34 270.05,720.25 271.30,720.15 272.55,720.05 273.80,719.95 275.05,719.85 276.29,719.75 277.54,719.66 278.79,719.56 280.04,719.46 281.29,719.36 282.54,719.27 283.78,719.17 285.03,719.07 286.28,718.98 287.53,718.88 288.78,718.78 290.02,718.69 291.27,718.59 292.52,718.50 293.77,718.40 295.02,718.31 296.27,718.21 297.51,718.12 298.76,718.02 300.01,717.93 301.26,717.83 302.51,717.74 303.75,717.65 305.00,717.55 306.25,717.46 307.50,717.37 308.75,717.28 309.99,717.18 311.24,717.09 312.49,717.00 313.74,716.91 314.99,716.82 316.24,716.73 317.48,716.64 318.73,716.55 319.98,716.46 321.23,716.37 322.48,716.28 323.72,716.20 324.97,716.11 326.22,716.02 327.47,715.93 328.72,715.85 329.96,715.76 331.21,715.68 332.46,715.59 333.71,715.51 334.96,715.42 336.21,715.34 337.45,715.25 338.70,715.17 339.95,715.09 341.20,715.01 342.45,714.93 343.69,714.85 344.94,714.77 346.19,714.69 347.44,714.61 348.69,714.53 349.93,714.45 351.18,714.37 352.43,714.30 353.68,714.22 354.93,714.14 356.18,714.07 357.42,713.99 358.67,713.92 359.92,713.85 361.17,713.77 362.42,713.70 363.66,713.63 364.91,713.56 366.16,713.49 367.41,713.42 368.66,713.35 369.90,713.28 371.15,713.21 372.40,713.15 373.65,713.08 374.90,713.01 376.15,712.95 377.39,712.88 378.64,712.82 379.89,712.76 381.14,712.69 382.39,712.63 383.63,712.57 384.88,712.51 386.13,712.45 387.38,712.39 388.63,712.34 389.88,712.28 391.12,712.22 392.37,712.17 393.62,712.11 394.87,712.06 396.12,712.01 397.36,711.96 398.61,711.90 399.86,711.85 401.11,711.80 402.36,711.75 403.60,711.71 404.85,711.66 406.10,711.61 407.35,711.57 408.60,711.52 409.85,711.48 411.09,711.44 412.34,711.40 413.59,711.35 414.84,711.31 416.09,711.28 417.33,711.24 418.58,711.20 419.83,711.16 421.08,711.13 422.33,711.09 423.57,711.06 424.82,711.03 426.07,711.00 427.32,710.97 428.57,710.94 429.82,710.91 431.06,710.88 432.31,710.85 433.56,710.83 434.81,710.80 436.06,710.78 437.30,710.76 438.55,710.74 439.80,710.72 441.05,710.70 442.30,710.68 443.54,710.66 444.79,710.65 446.04,710.63 447.29,710.62 448.54,710.61 449.79,710.60 451.03,710.59 452.28,710.58 453.53,710.57 454.78,710.56 456.03,710.56 457.27,710.55 458.52,710.55 459.77,710.55 461.02,710.54 462.27,710.54 463.51,710.55 464.76,710.55 466.01,710.55 467.26,710.56 468.51,710.56 469.76,710.57 471.00,710.58 472.25,710.59 473.50,710.60" fill="none" stroke="#0000ff" stroke-width="2.65" stroke-linejoin="round" />
<circle cx="99.06" cy="731.50" r="3.0" fill="none" stroke="#0000ff" stroke-width="1.5"/>
<circle cx="114.04" cy="730.92" r="3.0" fill="none" stroke="#0000ff" stroke-width="1.5"/>
<circle cx="129.02" cy="730.22" r="3.0" fill="none" stroke="#0000ff" stroke-width="1.5"/>
<circle cx="143.99" cy="729.41" r="3.0" fill="none" stroke="#0000ff" stroke-width="1.5"/>
<circle cx="158.97" cy="728.52" r="3.0" fill="none" stroke="#0000ff" stroke-width="1.5"/>
<circle cx="173.95" cy="727.54" r="3.0" fill="none" stroke="#0000ff" stroke-width="1.5"/>
<circle cx="188.93" cy="726.50" r="3.0" fill="none" stroke="#0000ff" stroke-width="1.5"/>
<circle cx="203.90" cy="725.41" r="3.0" fill="none" stroke="#0000ff" stroke-width="1.5"/>
<circle cx="218.88" cy="724.27" r="3.0" fill="none" stroke="#0000ff" stroke-width="1.5"/>
<circle cx="233.86" cy="723.11" r="3.0" fill="none" stroke="#0000ff" stroke-width="1.5"/>
<circle cx="248.84" cy="721.92" r="3.0" fill="none" stroke="#0000ff" stroke-width="1.5"/>
<circle cx="263.81" cy="720.74" r="3.0" fill="none" stroke="#0000ff" stroke-width="1.5"/>
<circle cx="278.79" cy="719.56" r="3.0" fill="none" stroke="#0000ff" stroke-width="1.5"/>
<circle cx="293.77" cy="718.40" r="3.0" fill="none" stroke="#0000ff" stroke-width="1.5"/>
<circle cx="308.75" cy="717.28" r="3.0" fill="none" stroke="#0000ff" stroke-width="1.5"/>
<circle cx="323.72" cy="716.20" r="3.0" fill="none" stroke="#0000ff" stroke-width="1.5"/>
<circle cx="338.70" cy="715.17" r="3.0" fill="none" stroke="#0000ff" stroke-width="1.5"/>
<circle cx="353.68" cy="714.22" r="3.0" fill="none" stroke="#0000ff" stroke-width="1.5"/>
<circle cx="368.66" cy="713.35" r="3.0" fill="none" stroke="#0000ff" stroke-width="1.5"/>
<circle cx="383.63" cy="712.57" r="3.0" fill="none" stroke="#0000ff" stroke-width="1.5"/>
<circle cx="398.61" cy="711.90" r="3.0" fill="none" stroke="#0000ff" stroke-width="1.5"/>
<circle cx="413.59" cy="711.35" r="3.0" fill="none" stroke="#0000ff" stroke-width="1.5"/>
<circle cx="428.57" cy="710.94" r="3.0" fill="none" stroke="#0000ff" stroke-width="1.5"/>
<circle cx="443.54" cy="710.66" r="3.0" fill="none" stroke="#0000ff" stroke-width="1.5"/>
<circle cx="458.52" cy="710.55" r="3.0" fill="none" stroke="#0000ff" stroke-width="1.5"/>
<circle cx="473.50" cy="710.60" r="3.0" fill="none" stroke="#0000ff" stroke-width="1.5"/>
<circle cx="235.22" cy="653.30" r="6.6" fill="#ff0000" stroke="none" stroke-width="0"/>
<circle cx="371.38" cy="713.20" r="6.6" fill="#0000ff" stroke="none" stroke-width="0"/>
<text x="211.30" y="678.30" font-size="26" font-family="Liberation Serif, serif" text-anchor="start" fill="#000"  textLength="17.3" lengthAdjust="spacingAndGlyphs">C</text>
<text x="378.80" y="705.60" font-size="26" font-family="Liberation Serif, serif" text-anchor="start" fill="#000"  textLength="18" lengthAdjust="spacingAndGlyphs">D</text>
<g transform="translate(49.7,688.5) rotate(-90)"><text x="0" y="0" font-size="26" font-family="Liberation Serif, serif" text-anchor="middle" textLength="63.5" lengthAdjust="spacingAndGlyphs">Re(<tspan font-style="italic">E</tspan>)</text></g>
<line x1="133.10" y1="853.30" x2="133.10" y2="849.30" stroke="#a2a2a2" stroke-width="1.2" />
<line x1="133.10" y1="749.50" x2="133.10" y2="753.50" stroke="#6e6e6e" stroke-width="1" />
<line x1="235.22" y1="853.30" x2="235.22" y2="849.30" stroke="#a2a2a2" stroke-width="1.2" />
<line x1="235.22" y1="749.50" x2="235.22" y2="753.50" stroke="#6e6e6e" stroke-width="1" />
<line x1="371.38" y1="853.30" x2="371.38" y2="849.30" stroke="#a2a2a2" stroke-width="1.2" />
<line x1="371.38" y1="749.50" x2="371.38" y2="753.50" stroke="#6e6e6e" stroke-width="1" />
<line x1="473.50" y1="853.30" x2="473.50" y2="849.30" stroke="#a2a2a2" stroke-width="1.2" />
<line x1="473.50" y1="749.50" x2="473.50" y2="753.50" stroke="#6e6e6e" stroke-width="1" />
<line x1="80.20" y1="836.00" x2="84.20" y2="836.00" stroke="#a2a2a2" stroke-width="1.2" />
<line x1="491.60" y1="836.00" x2="487.60" y2="836.00" stroke="#6e6e6e" stroke-width="1" />
<text x="53.80" y="844.30" font-size="20.7" font-family="Liberation Sans, sans-serif" text-anchor="start" fill="#000" >-1</text>
<line x1="80.20" y1="801.30" x2="84.20" y2="801.30" stroke="#a2a2a2" stroke-width="1.2" />
<line x1="491.60" y1="801.30" x2="487.60" y2="801.30" stroke="#6e6e6e" stroke-width="1" />
<text x="55.00" y="809.60" font-size="20.7" font-family="Liberation Sans, sans-serif" text-anchor="start" fill="#000" >0</text>
<line x1="80.20" y1="766.60" x2="84.20" y2="766.60" stroke="#a2a2a2" stroke-width="1.2" />
<line x1="491.60" y1="766.60" x2="487.60" y2="766.60" stroke="#6e6e6e" stroke-width="1" />
<text x="55.00" y="774.90" font-size="20.7" font-family="Liberation Sans, sans-serif" text-anchor="start" fill="#000" >1</text>
<path d="M80.2,749.5 V853.3 H491.6" fill="none" stroke="#a2a2a2" stroke-width="1.5"/>
<path d="M79.60000000000001,749.5 H491.6 V853.9" fill="none" stroke="#6e6e6e" stroke-width="1"/>
<text x="132.80" y="881.60" font-size="21" font-family="Liberation Sans, sans-serif" text-anchor="middle" fill="#000" >0.5</text>
<text x="234.92" y="881.60" font-size="21" font-family="Liberation Sans, sans-serif" text-anchor="middle" fill="#000" >0.8</text>
<text x="371.08" y="881.60" font-size="21" font-family="Liberation Sans, sans-serif" text-anchor="middle" fill="#000" >1.2</text>
<text x="473.20" y="881.60" font-size="21" font-family="Liberation Sans, sans-serif" text-anchor="middle" fill="#000" >1.5</text>
<line x1="235.22" y1="749.50" x2="235.22" y2="853.30" stroke="#333" stroke-width="1.15" stroke-dasharray="3.5,3.9"/>
<line x1="371.38" y1="749.50" x2="371.38" y2="853.30" stroke="#333" stroke-width="1.15" stroke-dasharray="3.5,3.9"/>
<polyline points="99.06,795.90 100.31,795.85 101.56,795.80 102.80,795.75 104.05,795.70 105.30,795.64 106.55,795.59 107.80,795.53 109.05,795.48 110.29,795.42 111.54,795.37 112.79,795.31 114.04,795.25 115.29,795.19 116.53,795.13 117.78,795.07 119.03,795.01 120.28,794.95 121.53,794.89 122.77,794.82 124.02,794.76 125.27,794.70 126.52,794.63 127.77,794.56 129.02,794.50 130.26,794.43 131.51,794.36 132.76,794.29 134.01,794.22 135.26,794.15 136.50,794.08 137.75,794.01 139.00,793.94 140.25,793.87 141.50,793.79 142.74,793.72 143.99,793.64 145.24,793.57 146.49,793.49 147.74,793.42 148.99,793.34 150.23,793.26 151.48,793.18 152.73,793.10 153.98,793.02 155.23,792.94 156.47,792.86 157.72,792.78 158.97,792.70 160.22,792.62 161.47,792.53 162.71,792.45 163.96,792.36 165.21,792.28 166.46,792.19 167.71,792.10 168.96,792.02 170.20,791.93 171.45,791.84 172.70,791.75 173.95,791.66 175.20,791.57 176.44,791.48 177.69,791.39 178.94,791.30 180.19,791.21 181.44,791.11 182.68,791.02 183.93,790.92 185.18,790.83 186.43,790.73 187.68,790.64 188.93,790.54 190.17,790.45 191.42,790.35 192.67,790.25 193.92,790.15 195.17,790.05 196.41,789.95 197.66,789.85 198.91,789.75 200.16,789.65 201.41,789.55 202.66,789.45 203.90,789.34 205.15,789.24 206.40,789.14 207.65,789.03 208.90,788.93 210.14,788.82 211.39,788.71 212.64,788.61 213.89,788.50 215.14,788.39 216.38,788.29 217.63,788.18 218.88,788.07 220.13,787.96 221.38,787.85 222.63,787.74 223.87,787.63 225.12,787.52 226.37,787.41 227.62,787.29 228.87,787.18 230.11,787.07 231.36,786.95 232.61,786.84 233.86,786.73 235.11,786.61 236.35,786.50 237.60,786.38 238.85,786.26 240.10,786.15 241.35,786.03 242.60,785.91 243.84,785.79 245.09,785.68 246.34,785.56 247.59,785.44 248.84,785.32 250.08,785.20 251.33,785.08 252.58,784.96 253.83,784.83 255.08,784.71 256.32,784.59 257.57,784.47 258.82,784.35 260.07,784.22 261.32,784.10 262.57,783.97 263.81,783.85 265.06,783.72 266.31,783.60 267.56,783.47 268.81,783.35 270.05,783.22 271.30,783.10 272.55,782.97 273.80,782.84 275.05,782.71 276.29,782.58 277.54,782.46 278.79,782.33 280.04,782.20 281.29,782.07 282.54,781.94 283.78,781.81 285.03,781.68 286.28,781.55 287.53,781.42 288.78,781.28 290.02,781.15 291.27,781.02 292.52,780.89 293.77,780.76 295.02,780.62 296.27,780.49 297.51,780.35 298.76,780.22 300.01,780.09 301.26,779.95 302.51,779.82 303.75,779.68 305.00,779.55 306.25,779.41 307.50,779.27 308.75,779.14 309.99,779.00 311.24,778.86 312.49,778.73 313.74,778.59 314.99,778.45 316.24,778.31 317.48,778.18 318.73,778.04 319.98,777.90 321.23,777.76 322.48,777.62 323.72,777.48 324.97,777.34 326.22,777.20 327.47,777.06 328.72,776.92 329.96,776.78 331.21,776.64 332.46,776.50 333.71,776.36 334.96,776.22 336.21,776.07 337.45,775.93 338.70,775.79 339.95,775.65 341.20,775.50 342.45,775.36 343.69,775.22 344.94,775.08 346.19,774.93 347.44,774.79 348.69,774.64 349.93,774.50 351.18,774.36 352.43,774.21 353.68,774.07 354.93,773.92 356.18,773.78 357.42,773.63 358.67,773.49 359.92,773.34 361.17,773.20 362.42,773.05 363.66,772.90 364.91,772.76 366.16,772.61 367.41,772.47 368.66,772.32 369.90,772.17 371.15,772.03 372.40,771.88 373.65,771.73 374.90,771.59 376.15,771.44 377.39,771.29 378.64,771.14 379.89,771.00 381.14,770.85 382.39,770.70 383.63,770.55 384.88,770.40 386.13,770.26 387.38,770.11 388.63,769.96 389.88,769.81 391.12,769.66 392.37,769.51 393.62,769.37 394.87,769.22 396.12,769.07 397.36,768.92 398.61,768.77 399.86,768.62 401.11,768.47 402.36,768.32 403.60,768.17 404.85,768.02 406.10,767.87 407.35,767.72 408.60,767.58 409.85,767.43 411.09,767.28 412.34,767.13 413.59,766.98 414.84,766.83 416.09,766.68 417.33,766.53 418.58,766.38 419.83,766.23 421.08,766.08 422.33,765.93 423.57,765.78 424.82,765.63 426.07,765.48 427.32,765.33 428.57,765.18 429.82,765.03 431.06,764.88 432.31,764.73 433.56,764.58 434.81,764.43 436.06,764.28 437.30,764.13 438.55,763.98 439.80,763.83 441.05,763.68 442.30,763.53 443.54,763.38 444.79,763.23 446.04,763.08 447.29,762.93 448.54,762.78 449.79,762.63 451.03,762.48 452.28,762.33 453.53,762.18 454.78,762.03 456.03,761.88 457.27,761.73 458.52,761.59 459.77,761.44 461.02,761.29 462.27,761.14 463.51,760.99 464.76,760.84 466.01,760.69 467.26,760.54 468.51,760.39 469.76,760.25 471.00,760.10 472.25,759.95 473.50,759.80" fill="none" stroke="#ff0000" stroke-width="2.65" stroke-linejoin="round" />
<circle cx="99.06" cy="795.90" r="3.0" fill="none" stroke="#ff0000" stroke-width="1.5"/>
<circle cx="114.04" cy="795.25" r="3.0" fill="none" stroke="#ff0000" stroke-width="1.5"/>
<circle cx="129.02" cy="794.50" r="3.0" fill="none" stroke="#ff0000" stroke-width="1.5"/>
<circle cx="143.99" cy="793.64" r="3.0" fill="none" stroke="#ff0000" stroke-width="1.5"/>
<circle cx="158.97" cy="792.70" r="3.0" fill="none" stroke="#ff0000" stroke-width="1.5"/>
<circle cx="173.95" cy="791.66" r="3.0" fill="none" stroke="#ff0000" stroke-width="1.5"/>
<circle cx="188.93" cy="790.54" r="3.0" fill="none" stroke="#ff0000" stroke-width="1.5"/>
<circle cx="203.90" cy="789.34" r="3.0" fill="none" stroke="#ff0000" stroke-width="1.5"/>
<circle cx="218.88" cy="788.07" r="3.0" fill="none" stroke="#ff0000" stroke-width="1.5"/>
<circle cx="233.86" cy="786.73" r="3.0" fill="none" stroke="#ff0000" stroke-width="1.5"/>
<circle cx="248.84" cy="785.32" r="3.0" fill="none" stroke="#ff0000" stroke-width="1.5"/>
<circle cx="263.81" cy="783.85" r="3.0" fill="none" stroke="#ff0000" stroke-width="1.5"/>
<circle cx="278.79" cy="782.33" r="3.0" fill="none" stroke="#ff0000" stroke-width="1.5"/>
<circle cx="293.77" cy="780.76" r="3.0" fill="none" stroke="#ff0000" stroke-width="1.5"/>
<circle cx="308.75" cy="779.14" r="3.0" fill="none" stroke="#ff0000" stroke-width="1.5"/>
<circle cx="323.72" cy="777.48" r="3.0" fill="none" stroke="#ff0000" stroke-width="1.5"/>
<circle cx="338.70" cy="775.79" r="3.0" fill="none" stroke="#ff0000" stroke-width="1.5"/>
<circle cx="353.68" cy="774.07" r="3.0" fill="none" stroke="#ff0000" stroke-width="1.5"/>
<circle cx="368.66" cy="772.32" r="3.0" fill="none" stroke="#ff0000" stroke-width="1.5"/>
<circle cx="383.63" cy="770.55" r="3.0" fill="none" stroke="#ff0000" stroke-width="1.5"/>
<circle cx="398.61" cy="768.77" r="3.0" fill="none" stroke="#ff0000" stroke-width="1.5"/>
<circle cx="413.59" cy="766.98" r="3.0" fill="none" stroke="#ff0000" stroke-width="1.5"/>
<circle cx="428.57" cy="765.18" r="3.0" fill="none" stroke="#ff0000" stroke-width="1.5"/>
<circle cx="443.54" cy="763.38" r="3.0" fill="none" stroke="#ff0000" stroke-width="1.5"/>
<circle cx="458.52" cy="761.59" r="3.0" fill="none" stroke="#ff0000" stroke-width="1.5"/>
<circle cx="473.50" cy="759.80" r="3.0" fill="none" stroke="#ff0000" stroke-width="1.5"/>
<polyline points="99.06,807.30 100.31,807.33 101.56,807.36 102.80,807.39 104.05,807.43 105.30,807.46 106.55,807.50 107.80,807.53 109.05,807.57 110.29,807.61 111.54,807.65 112.79,807.69 114.04,807.73 115.29,807.77 116.53,807.82 117.78,807.86 119.03,807.91 120.28,807.95 121.53,808.00 122.77,808.05 124.02,808.10 125.27,808.15 126.52,808.20 127.77,808.25 129.02,808.30 130.26,808.35 131.51,808.41 132.76,808.46 134.01,808.52 135.26,808.58 136.50,808.64 137.75,808.69 139.00,808.75 140.25,808.81 141.50,808.88 142.74,808.94 143.99,809.00 145.24,809.07 146.49,809.13 147.74,809.20 148.99,809.26 150.23,809.33 151.48,809.40 152.73,809.47 153.98,809.54 155.23,809.61 156.47,809.68 157.72,809.75 158.97,809.83 160.22,809.90 161.47,809.98 162.71,810.05 163.96,810.13 165.21,810.21 166.46,810.28 167.71,810.36 168.96,810.44 170.20,810.52 171.45,810.61 172.70,810.69 173.95,810.77 175.20,810.85 176.44,810.94 177.69,811.02 178.94,811.11 180.19,811.20 181.44,811.28 182.68,811.37 183.93,811.46 185.18,811.55 186.43,811.64 187.68,811.73 188.93,811.82 190.17,811.92 191.42,812.01 192.67,812.10 193.92,812.20 195.17,812.29 196.41,812.39 197.66,812.49 198.91,812.58 200.16,812.68 201.41,812.78 202.66,812.88 203.90,812.98 205.15,813.08 206.40,813.18 207.65,813.28 208.90,813.39 210.14,813.49 211.39,813.59 212.64,813.70 213.89,813.80 215.14,813.91 216.38,814.02 217.63,814.12 218.88,814.23 220.13,814.34 221.38,814.45 222.63,814.56 223.87,814.67 225.12,814.78 226.37,814.89 227.62,815.00 228.87,815.12 230.11,815.23 231.36,815.34 232.61,815.46 233.86,815.57 235.11,815.69 236.35,815.81 237.60,815.92 238.85,816.04 240.10,816.16 241.35,816.28 242.60,816.39 243.84,816.51 245.09,816.63 246.34,816.75 247.59,816.88 248.84,817.00 250.08,817.12 251.33,817.24 252.58,817.36 253.83,817.49 255.08,817.61 256.32,817.74 257.57,817.86 258.82,817.99 260.07,818.11 261.32,818.24 262.57,818.37 263.81,818.49 265.06,818.62 266.31,818.75 267.56,818.88 268.81,819.01 270.05,819.14 271.30,819.27 272.55,819.40 273.80,819.53 275.05,819.66 276.29,819.79 277.54,819.93 278.79,820.06 280.04,820.19 281.29,820.33 282.54,820.46 283.78,820.59 285.03,820.73 286.28,820.87 287.53,821.00 288.78,821.14 290.02,821.27 291.27,821.41 292.52,821.55 293.77,821.68 295.02,821.82 296.27,821.96 297.51,822.10 298.76,822.24 300.01,822.38 301.26,822.52 302.51,822.66 303.75,822.80 305.00,822.94 306.25,823.08 307.50,823.22 308.75,823.36 309.99,823.51 311.24,823.65 312.49,823.79 313.74,823.93 314.99,824.08 316.24,824.22 317.48,824.36 318.73,824.51 319.98,824.65 321.23,824.80 322.48,824.94 323.72,825.09 324.97,825.23 326.22,825.38 327.47,825.53 328.72,825.67 329.96,825.82 331.21,825.97 332.46,826.11 333.71,826.26 334.96,826.41 336.21,826.56 337.45,826.70 338.70,826.85 339.95,827.00 341.20,827.15 342.45,827.30 343.69,827.45 344.94,827.60 346.19,827.75 347.44,827.90 348.69,828.05 349.93,828.20 351.18,828.35 352.43,828.50 353.68,828.65 354.93,828.80 356.18,828.95 357.42,829.10 358.67,829.25 359.92,829.40 361.17,829.55 362.42,829.71 363.66,829.86 364.91,830.01 366.16,830.16 367.41,830.31 368.66,830.47 369.90,830.62 371.15,830.77 372.40,830.93 373.65,831.08 374.90,831.23 376.15,831.38 377.39,831.54 378.64,831.69 379.89,831.84 381.14,832.00 382.39,832.15 383.63,832.30 384.88,832.46 386.13,832.61 387.38,832.77 388.63,832.92 389.88,833.07 391.12,833.23 392.37,833.38 393.62,833.54 394.87,833.69 396.12,833.84 397.36,834.00 398.61,834.15 399.86,834.31 401.11,834.46 402.36,834.62 403.60,834.77 404.85,834.92 406.10,835.08 407.35,835.23 408.60,835.39 409.85,835.54 411.09,835.70 412.34,835.85 413.59,836.00 414.84,836.16 416.09,836.31 417.33,836.47 418.58,836.62 419.83,836.77 421.08,836.93 422.33,837.08 423.57,837.24 424.82,837.39 426.07,837.54 427.32,837.70 428.57,837.85 429.82,838.01 431.06,838.16 432.31,838.31 433.56,838.47 434.81,838.62 436.06,838.77 437.30,838.92 438.55,839.08 439.80,839.23 441.05,839.38 442.30,839.54 443.54,839.69 444.79,839.84 446.04,839.99 447.29,840.14 448.54,840.30 449.79,840.45 451.03,840.60 452.28,840.75 453.53,840.90 454.78,841.05 456.03,841.21 457.27,841.36 458.52,841.51 459.77,841.66 461.02,841.81 462.27,841.96 463.51,842.11 464.76,842.26 466.01,842.41 467.26,842.56 468.51,842.71 469.76,842.85 471.00,843.00 472.25,843.15 473.50,843.30" fill="none" stroke="#0000ff" stroke-width="2.65" stroke-linejoin="round" />
<circle cx="99.06" cy="807.30" r="3.0" fill="none" stroke="#0000ff" stroke-width="1.5"/>
<circle cx="114.04" cy="807.73" r="3.0" fill="none" stroke="#0000ff" stroke-width="1.5"/>
<circle cx="129.02" cy="808.30" r="3.0" fill="none" stroke="#0000ff" stroke-width="1.5"/>
<circle cx="143.99" cy="809.00" r="3.0" fill="none" stroke="#0000ff" stroke-width="1.5"/>
<circle cx="158.97" cy="809.83" r="3.0" fill="none" stroke="#0000ff" stroke-width="1.5"/>
<circle cx="173.95" cy="810.77" r="3.0" fill="none" stroke="#0000ff" stroke-width="1.5"/>
<circle cx="188.93" cy="811.82" r="3.0" fill="none" stroke="#0000ff" stroke-width="1.5"/>
<circle cx="203.90" cy="812.98" r="3.0" fill="none" stroke="#0000ff" stroke-width="1.5"/>
<circle cx="218.88" cy="814.23" r="3.0" fill="none" stroke="#0000ff" stroke-width="1.5"/>
<circle cx="233.86" cy="815.57" r="3.0" fill="none" stroke="#0000ff" stroke-width="1.5"/>
<circle cx="248.84" cy="817.00" r="3.0" fill="none" stroke="#0000ff" stroke-width="1.5"/>
<circle cx="263.81" cy="818.49" r="3.0" fill="none" stroke="#0000ff" stroke-width="1.5"/>
<circle cx="278.79" cy="820.06" r="3.0" fill="none" stroke="#0000ff" stroke-width="1.5"/>
<circle cx="293.77" cy="821.68" r="3.0" fill="none" stroke="#0000ff" stroke-width="1.5"/>
<circle cx="308.75" cy="823.36" r="3.0" fill="none" stroke="#0000ff" stroke-width="1.5"/>
<circle cx="323.72" cy="825.09" r="3.0" fill="none" stroke="#0000ff" stroke-width="1.5"/>
<circle cx="338.70" cy="826.85" r="3.0" fill="none" stroke="#0000ff" stroke-width="1.5"/>
<circle cx="353.68" cy="828.65" r="3.0" fill="none" stroke="#0000ff" stroke-width="1.5"/>
<circle cx="368.66" cy="830.47" r="3.0" fill="none" stroke="#0000ff" stroke-width="1.5"/>
<circle cx="383.63" cy="832.30" r="3.0" fill="none" stroke="#0000ff" stroke-width="1.5"/>
<circle cx="398.61" cy="834.15" r="3.0" fill="none" stroke="#0000ff" stroke-width="1.5"/>
<circle cx="413.59" cy="836.00" r="3.0" fill="none" stroke="#0000ff" stroke-width="1.5"/>
<circle cx="428.57" cy="837.85" r="3.0" fill="none" stroke="#0000ff" stroke-width="1.5"/>
<circle cx="443.54" cy="839.69" r="3.0" fill="none" stroke="#0000ff" stroke-width="1.5"/>
<circle cx="458.52" cy="841.51" r="3.0" fill="none" stroke="#0000ff" stroke-width="1.5"/>
<circle cx="473.50" cy="843.30" r="3.0" fill="none" stroke="#0000ff" stroke-width="1.5"/>
<circle cx="235.22" cy="786.60" r="6.6" fill="#ff0000" stroke="none" stroke-width="0"/>
<circle cx="371.38" cy="830.80" r="6.6" fill="#0000ff" stroke="none" stroke-width="0"/>
<text x="211.30" y="779.40" font-size="26" font-family="Liberation Serif, serif" text-anchor="start" fill="#000"  textLength="17.3" lengthAdjust="spacingAndGlyphs">C</text>
<text x="378.80" y="823.50" font-size="26" font-family="Liberation Serif, serif" text-anchor="start" fill="#000"  textLength="18" lengthAdjust="spacingAndGlyphs">D</text>
<g transform="translate(42.5,802) rotate(-90)"><text x="0" y="0" font-size="26" font-family="Liberation Serif, serif" text-anchor="middle" textLength="63.5" lengthAdjust="spacingAndGlyphs">Im(<tspan font-style="italic">E</tspan>)</text></g>
<text x="275.7" y="897.5" font-size="25" font-family="Liberation Serif, serif" font-style="italic" textLength="13" lengthAdjust="spacingAndGlyphs">γ</text>
<line x1="290.30" y1="903.50" x2="300.20" y2="880.30" stroke="#000" stroke-width="1.25" />
<text x="301.5" y="897.5" font-size="25" font-family="Liberation Serif, serif" font-style="italic" textLength="7.5" lengthAdjust="spacingAndGlyphs">t</text>
<text x="513.60" y="27.30" font-size="35" font-family="Liberation Sans, sans-serif" text-anchor="start" fill="#000"  textLength="42.5" lengthAdjust="spacingAndGlyphs">(c)</text>
<rect x="680.2" y="19.4" width="66" height="28.6" fill="#d9d9d9" stroke="#000" stroke-width="1.9"/>
<rect x="817.3" y="19.4" width="66" height="28.6" fill="#757575" stroke="#000" stroke-width="1.9"/>
<text x="753.5" y="41" font-size="29.5" font-family="Liberation Serif, serif" font-style="italic" textLength="24" lengthAdjust="spacingAndGlyphs">H</text>
<text x="775.50" y="45.70" font-size="21.5" font-family="Liberation Serif, serif" text-anchor="start" fill="#000"  textLength="26.5" lengthAdjust="spacingAndGlyphs">1D</text>
<text x="890.5" y="41" font-size="29.5" font-family="Liberation Serif, serif" font-style="italic" textLength="24" lengthAdjust="spacingAndGlyphs">H</text>
<text x="913.70" y="45.70" font-size="21.5" font-family="Liberation Serif, serif" text-anchor="start" fill="#000"  textLength="22.5" lengthAdjust="spacingAndGlyphs">eff</text>
<rect x="618.10" y="304.81" width="11.20" height="1.99" fill="#222" stroke="#000" stroke-width="1.7"/>
<rect x="629.30" y="306.23" width="11.20" height="0.57" fill="#222" stroke="#000" stroke-width="0.9"/>
<rect x="646.10" y="301.68" width="11.20" height="5.12" fill="#d9d9d9" stroke="#000" stroke-width="1.7"/>
<rect x="657.30" y="300.69" width="11.20" height="6.11" fill="#757575" stroke="#000" stroke-width="1.7"/>
<rect x="674.10" y="173.13" width="11.20" height="133.67" fill="#d9d9d9" stroke="#000" stroke-width="1.7"/>
<rect x="685.30" y="176.83" width="11.20" height="129.97" fill="#757575" stroke="#000" stroke-width="1.7"/>
<rect x="702.10" y="173.13" width="11.20" height="133.67" fill="#d9d9d9" stroke="#000" stroke-width="1.7"/>
<rect x="713.30" y="176.83" width="11.20" height="129.97" fill="#757575" stroke="#000" stroke-width="1.7"/>
<rect x="730.10" y="301.68" width="11.20" height="5.12" fill="#d9d9d9" stroke="#000" stroke-width="1.7"/>
<rect x="741.30" y="300.69" width="11.20" height="6.11" fill="#757575" stroke="#000" stroke-width="1.7"/>
<rect x="758.10" y="304.81" width="11.20" height="1.99" fill="#222" stroke="#000" stroke-width="1.7"/>
<rect x="769.30" y="306.23" width="11.20" height="0.57" fill="#222" stroke="#000" stroke-width="0.9"/>
<line x1="699.30" y1="65.00" x2="699.30" y2="306.80" stroke="#000" stroke-width="1.6" stroke-dasharray="1.6,1.76"/>
<rect x="601.3" y="65.0" width="196.00" height="241.80" fill="none" stroke="#1a1a1a" stroke-width="1.15"/>
<text x="592.30" y="315.40" font-size="21.6" font-family="Liberation Sans, sans-serif" text-anchor="end" fill="#000" >0</text>
<line x1="601.30" y1="193.04" x2="603.60" y2="193.04" stroke="#000" stroke-width="1" />
<line x1="797.30" y1="193.04" x2="795.00" y2="193.04" stroke="#000" stroke-width="1" />
<text x="592.30" y="201.64" font-size="21.6" font-family="Liberation Sans, sans-serif" text-anchor="end" fill="#000" >0.4</text>
<line x1="601.30" y1="79.28" x2="603.60" y2="79.28" stroke="#000" stroke-width="1" />
<line x1="797.30" y1="79.28" x2="795.00" y2="79.28" stroke="#000" stroke-width="1" />
<text x="592.30" y="87.88" font-size="21.6" font-family="Liberation Sans, sans-serif" text-anchor="end" fill="#000" >0.8</text>
<circle cx="748.70" cy="101.50" r="7.7" fill="#ff00ff" stroke="none" stroke-width="0"/>
<text x="763.10" y="108.80" font-size="26.5" font-family="Liberation Serif, serif" text-anchor="start" fill="#000"  textLength="18" lengthAdjust="spacingAndGlyphs">A</text>
<rect x="828.60" y="305.38" width="11.20" height="1.42" fill="#222" stroke="#000" stroke-width="1.7"/>
<rect x="839.80" y="306.50" width="11.20" height="0.30" fill="#222" stroke="#000" stroke-width="0.9"/>
<rect x="856.60" y="297.41" width="11.20" height="9.39" fill="#d9d9d9" stroke="#000" stroke-width="1.7"/>
<rect x="867.80" y="297.41" width="11.20" height="9.39" fill="#757575" stroke="#000" stroke-width="1.7"/>
<rect x="884.60" y="94.35" width="11.20" height="212.45" fill="#d9d9d9" stroke="#000" stroke-width="1.7"/>
<rect x="895.80" y="96.91" width="11.20" height="209.89" fill="#757575" stroke="#000" stroke-width="1.7"/>
<rect x="912.60" y="255.61" width="11.20" height="51.19" fill="#d9d9d9" stroke="#000" stroke-width="1.7"/>
<rect x="923.80" y="258.17" width="11.20" height="48.63" fill="#757575" stroke="#000" stroke-width="1.7"/>
<rect x="940.60" y="305.09" width="11.20" height="1.71" fill="#222" stroke="#000" stroke-width="1.7"/>
<rect x="951.80" y="304.81" width="11.20" height="1.99" fill="#222" stroke="#000" stroke-width="1.7"/>
<rect x="968.60" y="306.23" width="11.20" height="0.57" fill="#222" stroke="#000" stroke-width="0.9"/>
<rect x="979.80" y="306.50" width="11.20" height="0.30" fill="#222" stroke="#000" stroke-width="0.9"/>
<line x1="909.80" y1="65.00" x2="909.80" y2="306.80" stroke="#000" stroke-width="1.6" stroke-dasharray="1.6,1.76"/>
<rect x="811.8" y="65.0" width="196.00" height="241.80" fill="none" stroke="#1a1a1a" stroke-width="1.15"/>
<circle cx="959.20" cy="101.50" r="7.7" fill="#ff0000" stroke="none" stroke-width="0"/>
<text x="973.60" y="108.80" font-size="26.5" font-family="Liberation Serif, serif" text-anchor="start" fill="#000"  textLength="18" lengthAdjust="spacingAndGlyphs">A</text>
<path d="M998.10,89.40 l-3.6,9.3 l-1.1,-0.5 l2.9,-9.4 q1.2,-0.5 1.8,0.6z" fill="#000"/>
<rect x="618.10" y="565.04" width="11.20" height="2.56" fill="#222" stroke="#000" stroke-width="1.7"/>
<rect x="629.30" y="567.03" width="11.20" height="0.57" fill="#222" stroke="#000" stroke-width="0.9"/>
<rect x="646.10" y="560.21" width="11.20" height="7.39" fill="#d9d9d9" stroke="#000" stroke-width="1.7"/>
<rect x="657.30" y="561.34" width="11.20" height="6.26" fill="#757575" stroke="#000" stroke-width="1.7"/>
<rect x="674.10" y="436.78" width="11.20" height="130.82" fill="#d9d9d9" stroke="#000" stroke-width="1.7"/>
<rect x="685.30" y="437.74" width="11.20" height="129.86" fill="#757575" stroke="#000" stroke-width="1.7"/>
<rect x="702.10" y="436.78" width="11.20" height="130.82" fill="#d9d9d9" stroke="#000" stroke-width="1.7"/>
<rect x="713.30" y="437.74" width="11.20" height="129.86" fill="#757575" stroke="#000" stroke-width="1.7"/>
<rect x="730.10" y="560.21" width="11.20" height="7.39" fill="#d9d9d9" stroke="#000" stroke-width="1.7"/>
<rect x="741.30" y="561.34" width="11.20" height="6.26" fill="#757575" stroke="#000" stroke-width="1.7"/>
<rect x="758.10" y="565.04" width="11.20" height="2.56" fill="#222" stroke="#000" stroke-width="1.7"/>
<rect x="769.30" y="567.03" width="11.20" height="0.57" fill="#222" stroke="#000" stroke-width="0.9"/>
<line x1="699.30" y1="325.80" x2="699.30" y2="567.60" stroke="#000" stroke-width="1.6" stroke-dasharray="1.6,1.76"/>
<rect x="601.3" y="325.8" width="196.00" height="241.80" fill="none" stroke="#1a1a1a" stroke-width="1.15"/>
<text x="592.30" y="576.20" font-size="21.6" font-family="Liberation Sans, sans-serif" text-anchor="end" fill="#000" >0</text>
<line x1="601.30" y1="453.84" x2="603.60" y2="453.84" stroke="#000" stroke-width="1" />
<line x1="797.30" y1="453.84" x2="795.00" y2="453.84" stroke="#000" stroke-width="1" />
<text x="592.30" y="462.44" font-size="21.6" font-family="Liberation Sans, sans-serif" text-anchor="end" fill="#000" >0.4</text>
<line x1="601.30" y1="340.08" x2="603.60" y2="340.08" stroke="#000" stroke-width="1" />
<line x1="797.30" y1="340.08" x2="795.00" y2="340.08" stroke="#000" stroke-width="1" />
<text x="592.30" y="348.68" font-size="21.6" font-family="Liberation Sans, sans-serif" text-anchor="end" fill="#000" >0.8</text>
<circle cx="748.70" cy="362.30" r="7.7" fill="#ff00ff" stroke="none" stroke-width="0"/>
<text x="763.10" y="369.60" font-size="26.5" font-family="Liberation Serif, serif" text-anchor="start" fill="#000"  textLength="18" lengthAdjust="spacingAndGlyphs">B</text>
<rect x="828.60" y="567.03" width="11.20" height="0.57" fill="#222" stroke="#000" stroke-width="0.9"/>
<rect x="839.80" y="567.30" width="11.20" height="0.30" fill="#222" stroke="#000" stroke-width="0.9"/>
<rect x="856.60" y="566.18" width="11.20" height="1.42" fill="#222" stroke="#000" stroke-width="1.7"/>
<rect x="867.80" y="565.61" width="11.20" height="1.99" fill="#222" stroke="#000" stroke-width="1.7"/>
<rect x="884.60" y="515.55" width="11.20" height="52.05" fill="#d9d9d9" stroke="#000" stroke-width="1.7"/>
<rect x="895.80" y="517.55" width="11.20" height="50.05" fill="#757575" stroke="#000" stroke-width="1.7"/>
<rect x="912.60" y="354.44" width="11.20" height="213.16" fill="#d9d9d9" stroke="#000" stroke-width="1.7"/>
<rect x="923.80" y="356.43" width="11.20" height="211.17" fill="#757575" stroke="#000" stroke-width="1.7"/>
<rect x="940.60" y="557.65" width="11.20" height="9.95" fill="#d9d9d9" stroke="#000" stroke-width="1.7"/>
<rect x="951.80" y="557.65" width="11.20" height="9.95" fill="#757575" stroke="#000" stroke-width="1.7"/>
<rect x="968.60" y="566.18" width="11.20" height="1.42" fill="#222" stroke="#000" stroke-width="1.7"/>
<rect x="979.80" y="567.30" width="11.20" height="0.30" fill="#222" stroke="#000" stroke-width="0.9"/>
<line x1="909.80" y1="325.80" x2="909.80" y2="567.60" stroke="#000" stroke-width="1.6" stroke-dasharray="1.6,1.76"/>
<rect x="811.8" y="325.8" width="196.00" height="241.80" fill="none" stroke="#1a1a1a" stroke-width="1.15"/>
<circle cx="959.20" cy="362.30" r="7.7" fill="#0000ff" stroke="none" stroke-width="0"/>
<text x="973.60" y="369.60" font-size="26.5" font-family="Liberation Serif, serif" text-anchor="start" fill="#000"  textLength="18" lengthAdjust="spacingAndGlyphs">B</text>
<path d="M996.30,350.20 l-3.6,9.3 l-1.1,-0.5 l2.9,-9.4 q1.2,-0.5 1.8,0.6z" fill="#000"/>
<rect x="618.10" y="825.56" width="11.20" height="2.84" fill="#222" stroke="#000" stroke-width="1.7"/>
<rect x="629.30" y="827.83" width="11.20" height="0.57" fill="#222" stroke="#000" stroke-width="0.9"/>
<rect x="646.10" y="821.43" width="11.20" height="6.97" fill="#d9d9d9" stroke="#000" stroke-width="1.7"/>
<rect x="657.30" y="820.44" width="11.20" height="7.96" fill="#757575" stroke="#000" stroke-width="1.7"/>
<rect x="674.10" y="628.18" width="11.20" height="200.22" fill="#d9d9d9" stroke="#000" stroke-width="1.7"/>
<rect x="685.30" y="629.12" width="11.20" height="199.28" fill="#757575" stroke="#000" stroke-width="1.7"/>
<rect x="702.10" y="763.93" width="11.20" height="64.47" fill="#d9d9d9" stroke="#000" stroke-width="1.7"/>
<rect x="713.30" y="766.88" width="11.20" height="61.52" fill="#757575" stroke="#000" stroke-width="1.7"/>
<rect x="730.10" y="826.12" width="11.20" height="2.28" fill="#222" stroke="#000" stroke-width="1.7"/>
<rect x="741.30" y="824.70" width="11.20" height="3.70" fill="#757575" stroke="#000" stroke-width="1.7"/>
<rect x="758.10" y="827.26" width="11.20" height="1.14" fill="#222" stroke="#000" stroke-width="1.7"/>
<rect x="769.30" y="828.10" width="11.20" height="0.30" fill="#222" stroke="#000" stroke-width="0.9"/>
<line x1="699.30" y1="586.60" x2="699.30" y2="828.40" stroke="#000" stroke-width="1.6" stroke-dasharray="1.6,1.76"/>
<rect x="601.3" y="586.6" width="196.00" height="241.80" fill="none" stroke="#1a1a1a" stroke-width="1.15"/>
<text x="592.30" y="837.00" font-size="21.6" font-family="Liberation Sans, sans-serif" text-anchor="end" fill="#000" >0</text>
<line x1="601.30" y1="714.64" x2="603.60" y2="714.64" stroke="#000" stroke-width="1" />
<line x1="797.30" y1="714.64" x2="795.00" y2="714.64" stroke="#000" stroke-width="1" />
<text x="592.30" y="723.24" font-size="21.6" font-family="Liberation Sans, sans-serif" text-anchor="end" fill="#000" >0.4</text>
<line x1="601.30" y1="600.88" x2="603.60" y2="600.88" stroke="#000" stroke-width="1" />
<line x1="797.30" y1="600.88" x2="795.00" y2="600.88" stroke="#000" stroke-width="1" />
<text x="592.30" y="609.48" font-size="21.6" font-family="Liberation Sans, sans-serif" text-anchor="end" fill="#000" >0.8</text>
<text x="628.10" y="859.20" font-size="20.3" font-family="Liberation Sans, sans-serif" text-anchor="middle" fill="#000" >21</text>
<text x="684.10" y="859.20" font-size="20.3" font-family="Liberation Sans, sans-serif" text-anchor="middle" fill="#000" >23</text>
<text x="768.10" y="859.20" font-size="20.3" font-family="Liberation Sans, sans-serif" text-anchor="middle" fill="#000" >26</text>
<circle cx="748.70" cy="623.10" r="7.7" fill="#ff0000" stroke="none" stroke-width="0"/>
<text x="763.10" y="630.40" font-size="26.5" font-family="Liberation Serif, serif" text-anchor="start" fill="#000"  textLength="18" lengthAdjust="spacingAndGlyphs">C</text>
<rect x="828.60" y="827.83" width="11.20" height="0.57" fill="#222" stroke="#000" stroke-width="0.9"/>
<rect x="839.80" y="828.10" width="11.20" height="0.30" fill="#222" stroke="#000" stroke-width="0.9"/>
<rect x="856.60" y="826.98" width="11.20" height="1.42" fill="#222" stroke="#000" stroke-width="1.7"/>
<rect x="867.80" y="826.98" width="11.20" height="1.42" fill="#222" stroke="#000" stroke-width="1.7"/>
<rect x="884.60" y="788.73" width="11.20" height="39.67" fill="#d9d9d9" stroke="#000" stroke-width="1.7"/>
<rect x="895.80" y="788.73" width="11.20" height="39.67" fill="#757575" stroke="#000" stroke-width="1.7"/>
<rect x="912.60" y="611.69" width="11.20" height="216.71" fill="#d9d9d9" stroke="#000" stroke-width="1.7"/>
<rect x="923.80" y="611.26" width="11.20" height="217.14" fill="#757575" stroke="#000" stroke-width="1.7"/>
<rect x="940.60" y="816.17" width="11.20" height="12.23" fill="#d9d9d9" stroke="#000" stroke-width="1.7"/>
<rect x="951.80" y="817.02" width="11.20" height="11.38" fill="#757575" stroke="#000" stroke-width="1.7"/>
<rect x="968.60" y="826.41" width="11.20" height="1.99" fill="#222" stroke="#000" stroke-width="1.7"/>
<rect x="979.80" y="827.83" width="11.20" height="0.57" fill="#222" stroke="#000" stroke-width="0.9"/>
<line x1="909.80" y1="586.60" x2="909.80" y2="828.40" stroke="#000" stroke-width="1.6" stroke-dasharray="1.6,1.76"/>
<rect x="811.8" y="586.6" width="196.00" height="241.80" fill="none" stroke="#1a1a1a" stroke-width="1.15"/>
<text x="838.60" y="859.20" font-size="20.3" font-family="Liberation Sans, sans-serif" text-anchor="middle" fill="#000" >21</text>
<text x="894.60" y="859.20" font-size="20.3" font-family="Liberation Sans, sans-serif" text-anchor="middle" fill="#000" >23</text>
<text x="978.60" y="859.20" font-size="20.3" font-family="Liberation Sans, sans-serif" text-anchor="middle" fill="#000" >26</text>
<circle cx="959.20" cy="623.10" r="7.7" fill="#0000ff" stroke="none" stroke-width="0"/>
<text x="973.60" y="630.40" font-size="26.5" font-family="Liberation Serif, serif" text-anchor="start" fill="#000"  textLength="18" lengthAdjust="spacingAndGlyphs">D</text>
<g transform="translate(549.3,625.8) rotate(-90)"><text x="0" y="0" font-size="29.3" font-family="Liberation Sans, sans-serif" textLength="359" lengthAdjust="spacingAndGlyphs">Normalized Field Distribution</text></g>
<text x="811.30" y="883.00" font-size="26" font-family="Liberation Sans, sans-serif" text-anchor="middle" fill="#000" >Site Number</text>
</svg></body></html>
